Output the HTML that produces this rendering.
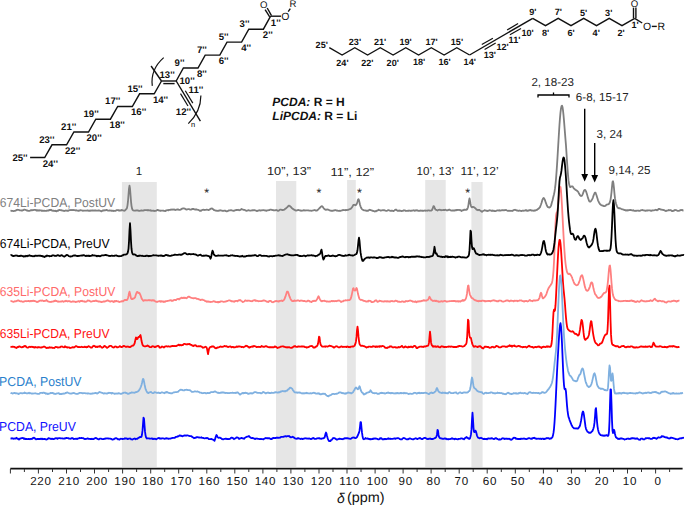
<!DOCTYPE html>
<html><head><meta charset="utf-8"><style>
html,body{margin:0;padding:0;background:#fff;overflow:hidden;}
svg{display:block;}
text{font-family:"Liberation Sans",sans-serif;text-rendering:geometricPrecision;}
.ax{font-size:11.6px;fill:#111;letter-spacing:0.8px;}
.sl{font-size:13px;}
.pl{font-size:11.6px;fill:#222;}
.ast{font-size:12.5px;fill:#222;}
.dl{font-size:14px;font-style:italic;fill:#111;}
.pp{font-size:14px;fill:#111;}
.cl{font-size:9.6px;font-weight:bold;fill:#111;}
.at{font-size:10.5px;fill:#111;}
.at2{font-size:9.6px;fill:#111;}
.cl2{font-size:9.1px;font-weight:bold;fill:#111;}
.nn{font-size:7.5px;fill:#000;}
.pc{font-size:12px;font-weight:bold;fill:#111;}
</style></head><body>
<svg width="685" height="505" viewBox="0 0 685 505">
<rect x="121.9" y="182.0" width="34.9" height="285.0" fill="#e6e6e6"/>
<rect x="276.0" y="181.0" width="20.3" height="286.0" fill="#e6e6e6"/>
<rect x="347.1" y="180.0" width="8.7" height="287.0" fill="#e6e6e6"/>
<rect x="425.2" y="180.0" width="20.5" height="287.0" fill="#e6e6e6"/>
<rect x="471.4" y="182.0" width="11.2" height="285.0" fill="#e6e6e6"/>
<polyline fill="none" stroke="#ff0000" stroke-width="1.8" stroke-linejoin="round" points="10.5,346.52 11.0,346.78 11.5,346.80 12.0,346.82 12.5,346.67 13.0,346.67 13.5,346.85 14.0,346.85 14.5,346.94 15.0,347.44 15.5,347.70 16.0,347.48 16.5,347.95 17.0,347.54 17.5,347.15 18.0,346.92 18.5,347.00 19.0,346.46 19.5,346.44 20.0,346.61 20.5,346.92 21.0,347.05 21.5,347.27 22.0,347.39 22.5,347.01 23.0,347.10 23.5,346.63 24.0,346.35 24.5,345.97 25.0,346.37 25.5,346.04 26.0,346.40 26.5,347.18 27.0,347.50 27.5,347.69 28.0,347.56 28.5,347.45 29.0,346.86 29.5,346.85 30.0,346.75 30.5,347.07 31.0,346.91 31.5,346.88 32.0,346.72 32.5,347.06 33.0,346.92 33.5,347.30 34.0,347.17 34.5,347.57 35.0,347.02 35.5,347.35 36.0,347.17 36.5,347.45 37.0,347.38 37.5,347.55 38.0,347.15 38.5,347.35 39.0,347.17 39.5,347.40 40.0,347.28 40.5,347.58 41.0,347.52 41.5,347.48 42.0,347.16 42.5,347.28 43.0,347.03 43.5,346.69 44.0,346.53 44.5,346.62 45.0,346.92 45.5,347.27 46.0,347.73 46.5,347.99 47.0,348.02 47.5,347.72 48.0,347.68 48.5,347.84 49.0,347.59 49.5,347.28 50.0,347.68 50.5,347.56 51.0,347.38 51.5,347.65 52.0,347.55 52.5,347.65 53.0,348.00 53.5,347.82 54.0,347.79 54.5,348.07 55.0,347.33 55.5,346.91 56.0,346.95 56.5,347.03 57.0,347.16 57.5,347.38 58.0,347.70 58.5,347.45 59.0,347.38 59.5,347.47 60.0,347.39 60.5,346.69 61.0,346.65 61.5,346.53 62.0,346.40 62.5,346.81 63.0,346.99 63.5,347.19 64.0,347.28 64.5,347.13 65.0,346.25 65.5,346.66 66.0,347.17 66.5,347.25 67.0,347.08 67.5,347.52 68.0,347.39 68.5,347.43 69.0,347.34 69.5,347.57 70.0,348.01 70.5,347.94 71.0,347.80 71.5,347.51 72.0,347.38 72.5,347.19 73.0,347.53 73.5,347.26 74.0,347.48 74.5,347.18 75.0,346.86 75.5,346.40 76.0,346.14 76.5,346.20 77.0,346.53 77.5,346.87 78.0,347.02 78.5,347.07 79.0,346.96 79.5,347.13 80.0,347.15 80.5,347.03 81.0,347.05 81.5,346.72 82.0,346.98 82.5,347.11 83.0,347.18 83.5,347.12 84.0,347.15 84.5,346.83 85.0,346.55 85.5,347.08 86.0,347.24 86.5,347.34 87.0,346.76 87.5,347.03 88.0,346.58 88.5,346.17 89.0,346.38 89.5,346.57 90.0,347.03 90.5,347.24 91.0,347.73 91.5,347.65 92.0,347.53 92.5,346.72 93.0,346.12 93.5,346.13 94.0,345.69 94.5,345.96 95.0,346.26 95.5,346.98 96.0,346.58 96.5,346.72 97.0,347.12 97.5,347.03 98.0,346.44 98.5,346.55 99.0,346.74 99.5,346.28 100.0,345.93 100.5,346.43 101.0,346.74 101.5,347.36 102.0,347.60 102.5,347.73 103.0,347.23 103.5,347.04 104.0,346.29 104.5,345.91 105.0,346.10 105.5,346.64 106.0,346.85 106.5,347.44 107.0,347.90 107.5,347.58 108.0,347.28 108.5,347.00 109.0,346.46 109.5,346.02 110.0,345.85 110.5,345.83 111.0,345.94 111.5,346.08 112.0,346.78 112.5,347.15 113.0,347.28 113.5,347.52 114.0,347.44 114.5,346.68 115.0,346.81 115.5,346.52 116.0,346.54 116.5,346.79 117.0,347.46 117.5,347.46 118.0,347.14 118.5,347.01 119.0,346.78 119.5,346.38 120.0,346.11 120.5,346.74 121.0,346.78 121.5,347.15 122.0,346.94 122.5,346.90 123.0,346.19 123.5,345.96 124.0,345.86 124.5,346.06 125.0,346.23 125.5,346.80 126.0,347.04 126.5,346.71 127.0,346.68 127.5,346.43 128.0,346.75 128.5,346.74 129.0,346.87 129.5,347.06 130.0,347.21 130.5,346.81 131.0,346.45 131.5,346.31 132.0,345.86 132.5,345.52 133.0,345.59 133.5,345.33 134.0,344.67 134.5,343.64 135.0,341.86 135.5,339.23 136.0,337.50 136.5,337.97 137.0,339.06 137.5,338.94 138.0,337.73 138.5,336.83 139.0,336.80 139.5,337.01 140.0,335.54 140.5,335.07 141.0,337.50 141.5,340.78 142.0,342.82 142.5,344.82 143.0,345.52 143.5,345.98 144.0,346.20 144.5,346.30 145.0,346.37 145.5,346.35 146.0,346.19 146.5,346.10 147.0,345.92 147.5,345.44 148.0,345.80 148.5,346.17 149.0,346.42 149.5,347.01 150.0,347.19 150.5,347.12 151.0,347.23 151.5,346.95 152.0,346.29 152.5,346.24 153.0,346.28 153.5,346.39 154.0,346.47 154.5,347.06 155.0,347.18 155.5,346.90 156.0,346.49 156.5,346.69 157.0,346.05 157.5,345.92 158.0,345.73 158.5,345.96 159.0,346.50 159.5,347.52 160.0,347.67 160.5,347.56 161.0,347.35 161.5,346.67 162.0,346.50 162.5,346.69 163.0,346.91 163.5,347.20 164.0,347.52 164.5,346.70 165.0,346.44 165.5,346.53 166.0,346.30 166.5,346.19 167.0,346.45 167.5,346.59 168.0,346.48 168.5,346.24 169.0,346.51 169.5,346.63 170.0,346.64 170.5,346.37 171.0,346.48 171.5,346.27 172.0,345.84 172.5,345.92 173.0,346.12 173.5,346.18 174.0,345.89 174.5,346.15 175.0,346.09 175.5,346.01 176.0,346.18 176.5,345.95 177.0,345.61 177.5,345.41 178.0,345.17 178.5,344.65 179.0,344.94 179.5,345.33 180.0,344.70 180.5,344.97 181.0,345.40 181.5,345.39 182.0,345.00 182.5,345.21 183.0,344.98 183.5,344.25 184.0,343.89 184.5,343.87 185.0,343.95 185.5,344.27 186.0,344.47 186.5,344.21 187.0,344.50 187.5,344.32 188.0,343.98 188.5,344.04 189.0,344.34 189.5,343.93 190.0,344.17 190.5,344.83 191.0,344.79 191.5,344.91 192.0,345.47 192.5,345.77 193.0,345.54 193.5,345.96 194.0,345.64 194.5,345.29 195.0,345.24 195.5,345.27 196.0,345.45 196.5,346.09 197.0,346.31 197.5,346.37 198.0,346.30 198.5,346.14 199.0,346.26 199.5,346.31 200.0,346.19 200.5,346.11 201.0,346.36 201.5,346.56 202.0,346.91 202.5,347.35 203.0,347.78 203.5,347.59 204.0,347.52 204.5,347.14 205.0,346.99 205.5,346.77 206.0,347.14 206.5,347.31 207.0,348.70 207.5,351.44 208.0,354.21 208.5,351.60 209.0,348.93 209.5,347.99 210.0,347.24 210.5,346.86 211.0,346.81 211.5,346.94 212.0,346.31 212.5,346.69 213.0,346.46 213.5,346.37 214.0,346.85 214.5,347.41 215.0,348.03 215.5,348.23 216.0,348.35 216.5,347.90 217.0,348.10 217.5,347.31 218.0,347.32 218.5,347.51 219.0,347.28 219.5,346.95 220.0,346.84 220.5,346.46 221.0,346.54 221.5,346.89 222.0,346.87 222.5,346.78 223.0,346.61 223.5,346.53 224.0,346.35 224.5,345.96 225.0,346.15 225.5,346.26 226.0,346.14 226.5,346.20 227.0,346.65 227.5,346.71 228.0,347.09 228.5,346.84 229.0,346.72 229.5,346.53 230.0,346.43 230.5,346.45 231.0,346.84 231.5,347.30 232.0,346.84 232.5,346.98 233.0,346.87 233.5,347.24 234.0,347.09 234.5,347.29 235.0,347.29 235.5,347.22 236.0,346.93 236.5,346.49 237.0,346.83 237.5,346.71 238.0,346.81 238.5,346.46 239.0,346.28 239.5,346.41 240.0,346.66 240.5,346.67 241.0,346.57 241.5,347.02 242.0,347.05 242.5,346.79 243.0,346.80 243.5,347.34 244.0,347.04 244.5,346.79 245.0,346.41 245.5,346.25 246.0,345.77 246.5,345.81 247.0,345.78 247.5,346.60 248.0,346.72 248.5,346.86 249.0,347.56 249.5,347.70 250.0,346.92 250.5,347.05 251.0,346.87 251.5,346.74 252.0,346.48 252.5,346.73 253.0,346.28 253.5,346.52 254.0,345.92 254.5,346.19 255.0,346.23 255.5,346.45 256.0,346.64 256.5,347.08 257.0,347.11 257.5,346.99 258.0,346.89 258.5,346.74 259.0,347.06 259.5,346.95 260.0,346.97 260.5,347.05 261.0,346.75 261.5,346.00 262.0,346.05 262.5,346.55 263.0,346.71 263.5,346.84 264.0,346.69 264.5,346.79 265.0,346.46 265.5,346.19 266.0,346.06 266.5,346.41 267.0,346.59 267.5,346.73 268.0,347.05 268.5,347.22 269.0,347.30 269.5,347.08 270.0,347.42 270.5,347.12 271.0,347.11 271.5,347.32 272.0,347.27 272.5,347.10 273.0,347.34 273.5,347.46 274.0,347.09 274.5,346.84 275.0,346.31 275.5,346.81 276.0,346.92 276.5,347.14 277.0,347.66 277.5,348.01 278.0,347.74 278.5,347.54 279.0,347.35 279.5,347.36 280.0,347.15 280.5,346.62 281.0,346.63 281.5,346.56 282.0,346.48 282.5,346.40 283.0,346.46 283.5,346.43 284.0,346.90 284.5,346.75 285.0,346.95 285.5,347.19 286.0,347.33 286.5,347.19 287.0,347.51 287.5,347.11 288.0,347.41 288.5,347.34 289.0,347.06 289.5,347.29 290.0,347.62 290.5,347.75 291.0,347.96 291.5,347.81 292.0,347.38 292.5,347.58 293.0,347.12 293.5,346.38 294.0,346.53 294.5,346.38 295.0,345.97 295.5,346.40 296.0,346.87 296.5,346.86 297.0,346.83 297.5,346.90 298.0,346.32 298.5,346.40 299.0,346.55 299.5,346.51 300.0,346.66 300.5,346.52 301.0,346.62 301.5,346.38 302.0,346.54 302.5,346.36 303.0,346.55 303.5,346.48 304.0,346.38 304.5,346.88 305.0,347.07 305.5,347.17 306.0,346.95 306.5,347.58 307.0,347.33 307.5,347.41 308.0,347.11 308.5,347.16 309.0,346.94 309.5,346.51 310.0,346.17 310.5,346.20 311.0,346.14 311.5,345.99 312.0,345.95 312.5,346.20 313.0,347.08 313.5,347.62 314.0,347.36 314.5,347.54 315.0,347.50 315.5,346.77 316.0,346.50 316.5,346.49 317.0,346.04 317.5,345.32 318.0,343.80 318.5,340.62 319.0,336.76 319.5,337.20 320.0,341.42 320.5,344.12 321.0,345.29 321.5,345.70 322.0,346.46 322.5,346.69 323.0,346.55 323.5,346.53 324.0,346.58 324.5,346.53 325.0,346.28 325.5,346.75 326.0,346.51 326.5,346.32 327.0,346.30 327.5,346.68 328.0,346.47 328.5,346.24 329.0,345.85 329.5,345.64 330.0,345.82 330.5,346.01 331.0,345.89 331.5,346.25 332.0,346.48 332.5,346.60 333.0,346.88 333.5,347.46 334.0,347.70 334.5,347.37 335.0,346.89 335.5,346.56 336.0,346.30 336.5,346.27 337.0,346.42 337.5,346.60 338.0,346.99 338.5,347.33 339.0,347.41 339.5,347.44 340.0,347.02 340.5,346.67 341.0,346.63 341.5,346.30 342.0,346.63 342.5,346.90 343.0,347.00 343.5,346.80 344.0,346.74 344.5,346.92 345.0,346.72 345.5,346.84 346.0,346.78 346.5,347.11 347.0,346.46 347.5,346.61 348.0,346.60 348.5,347.14 349.0,346.87 349.5,347.02 350.0,347.30 350.5,346.91 351.0,346.59 351.5,346.55 352.0,346.61 352.5,346.40 353.0,346.68 353.5,346.43 354.0,346.10 354.5,345.74 355.0,344.77 355.5,343.44 356.0,341.18 356.5,336.93 357.0,330.10 357.5,326.67 358.0,330.48 358.5,336.42 359.0,340.86 359.5,343.82 360.0,344.71 360.5,345.33 361.0,345.90 361.5,345.85 362.0,345.59 362.5,345.86 363.0,345.98 363.5,346.09 364.0,346.05 364.5,346.48 365.0,346.60 365.5,346.81 366.0,347.16 366.5,347.56 367.0,347.17 367.5,347.10 368.0,347.26 368.5,346.60 369.0,346.66 369.5,346.64 370.0,346.71 370.5,346.67 371.0,346.98 371.5,346.76 372.0,346.94 372.5,346.75 373.0,346.09 373.5,346.35 374.0,346.52 374.5,346.66 375.0,346.43 375.5,347.03 376.0,346.51 376.5,346.86 377.0,346.31 377.5,346.91 378.0,346.59 378.5,346.56 379.0,346.28 379.5,346.76 380.0,346.23 380.5,346.20 381.0,346.61 381.5,346.63 382.0,345.87 382.5,345.99 383.0,346.20 383.5,346.21 384.0,346.47 384.5,347.00 385.0,347.67 385.5,347.76 386.0,347.76 386.5,347.78 387.0,348.15 387.5,347.60 388.0,347.28 388.5,347.44 389.0,347.29 389.5,346.66 390.0,346.39 390.5,346.63 391.0,346.43 391.5,346.39 392.0,346.96 392.5,347.24 393.0,347.49 393.5,347.33 394.0,347.18 394.5,347.11 395.0,347.25 395.5,347.07 396.0,347.53 396.5,347.51 397.0,347.70 397.5,347.64 398.0,347.23 398.5,346.87 399.0,347.44 399.5,347.36 400.0,347.15 400.5,346.84 401.0,346.71 401.5,346.09 402.0,345.93 402.5,346.55 403.0,347.25 403.5,347.49 404.0,347.43 404.5,347.15 405.0,346.59 405.5,346.32 406.0,346.92 406.5,347.04 407.0,347.16 407.5,347.46 408.0,347.58 408.5,346.63 409.0,347.01 409.5,347.08 410.0,346.53 410.5,346.58 411.0,346.97 411.5,346.60 412.0,346.83 412.5,347.31 413.0,347.04 413.5,346.47 414.0,346.01 414.5,345.82 415.0,345.91 415.5,346.33 416.0,347.10 416.5,348.05 417.0,348.08 417.5,348.03 418.0,347.46 418.5,347.30 419.0,346.97 419.5,346.94 420.0,346.60 420.5,346.69 421.0,346.56 421.5,346.75 422.0,346.68 422.5,346.88 423.0,346.97 423.5,346.98 424.0,346.45 424.5,346.58 425.0,346.38 425.5,346.55 426.0,346.29 426.5,346.15 427.0,345.85 427.5,345.89 428.0,345.75 428.5,344.85 429.0,342.64 429.5,336.95 430.0,331.59 430.5,336.10 431.0,342.18 431.5,344.44 432.0,345.49 432.5,346.00 433.0,346.73 433.5,346.23 434.0,346.69 434.5,346.65 435.0,346.23 435.5,346.35 436.0,346.96 436.5,346.80 437.0,346.50 437.5,346.57 438.0,346.27 438.5,346.95 439.0,347.05 439.5,347.26 440.0,347.35 440.5,347.31 441.0,346.50 441.5,346.26 442.0,346.41 442.5,346.50 443.0,346.83 443.5,346.70 444.0,347.10 444.5,346.90 445.0,347.11 445.5,346.89 446.0,346.95 446.5,347.02 447.0,346.92 447.5,346.74 448.0,346.57 448.5,346.81 449.0,346.45 449.5,346.61 450.0,346.71 450.5,346.76 451.0,346.39 451.5,346.57 452.0,346.71 452.5,346.79 453.0,346.68 453.5,347.13 454.0,347.11 454.5,346.96 455.0,346.89 455.5,347.07 456.0,346.98 456.5,347.09 457.0,346.90 457.5,346.47 458.0,346.50 458.5,346.48 459.0,345.84 459.5,345.78 460.0,346.21 460.5,346.17 461.0,346.11 461.5,346.19 462.0,346.49 462.5,346.68 463.0,346.58 463.5,346.28 464.0,346.14 464.5,345.92 465.0,345.24 465.5,344.63 466.0,344.26 466.5,343.02 467.0,338.97 467.5,330.13 468.0,319.55 468.5,320.58 469.0,330.00 469.5,335.80 470.0,337.69 470.5,337.56 471.0,338.15 471.5,340.59 472.0,342.85 472.5,344.34 473.0,345.35 473.5,346.33 474.0,346.80 474.5,346.71 475.0,346.22 475.5,346.23 476.0,346.55 476.5,346.54 477.0,346.58 477.5,347.18 478.0,347.12 478.5,346.34 479.0,346.31 479.5,346.19 480.0,346.52 480.5,346.29 481.0,346.80 481.5,347.40 482.0,348.08 482.5,347.96 483.0,348.49 483.5,348.03 484.0,347.53 484.5,346.95 485.0,346.57 485.5,346.80 486.0,346.70 486.5,346.91 487.0,346.80 487.5,347.17 488.0,346.87 488.5,347.14 489.0,347.48 489.5,347.77 490.0,347.77 490.5,347.55 491.0,347.54 491.5,346.99 492.0,346.95 492.5,346.80 493.0,346.76 493.5,347.41 494.0,347.46 494.5,347.38 495.0,347.08 495.5,346.88 496.0,346.03 496.5,345.86 497.0,346.16 497.5,346.34 498.0,346.47 498.5,346.87 499.0,347.33 499.5,347.27 500.0,347.43 500.5,347.34 501.0,347.21 501.5,346.79 502.0,346.63 502.5,346.28 503.0,346.32 503.5,346.34 504.0,346.46 504.5,346.43 505.0,346.50 505.5,346.88 506.0,346.84 506.5,346.66 507.0,346.76 507.5,346.63 508.0,346.10 508.5,346.19 509.0,346.04 509.5,345.28 510.0,345.59 510.5,346.06 511.0,345.67 511.5,345.84 512.0,346.69 512.5,346.18 513.0,345.75 513.5,345.85 514.0,346.01 514.5,345.44 515.0,346.08 515.5,346.24 516.0,346.58 516.5,346.55 517.0,346.52 517.5,346.28 518.0,346.01 518.5,345.95 519.0,345.83 519.5,346.23 520.0,346.22 520.5,346.69 521.0,346.86 521.5,346.82 522.0,346.89 522.5,347.26 523.0,347.19 523.5,346.86 524.0,347.05 524.5,346.98 525.0,346.86 525.5,346.76 526.0,347.00 526.5,347.52 527.0,347.29 527.5,346.85 528.0,346.45 528.5,346.01 529.0,345.71 529.5,346.08 530.0,346.67 530.5,346.61 531.0,346.77 531.5,346.90 532.0,347.06 532.5,346.89 533.0,347.52 533.5,347.72 534.0,347.39 534.5,347.17 535.0,347.15 535.5,346.92 536.0,346.98 536.5,347.30 537.0,347.04 537.5,346.68 538.0,346.84 538.5,346.70 539.0,346.34 539.5,347.05 540.0,347.31 540.5,347.08 541.0,347.38 541.5,347.97 542.0,347.24 542.5,346.99 543.0,347.10 543.5,346.71 544.0,346.62 544.5,346.97 545.0,347.02 545.5,347.09 546.0,347.04 546.5,346.41 547.0,346.30 547.5,346.89 548.0,346.25 548.5,346.47 549.0,346.84 549.5,346.86 550.0,346.56 550.5,346.81 551.0,346.06 551.5,344.06 552.0,339.66 552.5,331.74 553.0,320.81 553.5,312.27 554.0,309.74 554.5,311.19 555.0,310.09 555.5,305.45 556.0,296.92 556.5,286.55 557.0,275.81 557.5,265.49 558.0,255.78 558.5,248.01 559.0,242.78 559.5,239.92 560.0,240.15 560.5,243.46 561.0,249.42 561.5,257.03 562.0,265.47 562.5,274.29 563.0,282.38 563.5,288.81 564.0,293.62 564.5,298.67 565.0,304.66 565.5,311.47 566.0,317.67 566.5,322.56 567.0,326.33 567.5,328.38 568.0,329.36 568.5,329.79 569.0,330.43 569.5,330.57 570.0,331.12 570.5,331.31 571.0,331.56 571.5,331.69 572.0,331.59 572.5,331.26 573.0,331.57 573.5,331.93 574.0,332.71 574.5,333.35 575.0,333.87 575.5,333.75 576.0,334.20 576.5,333.92 577.0,334.72 577.5,335.00 578.0,335.60 578.5,335.06 579.0,334.53 579.5,332.18 580.0,329.63 580.5,325.94 581.0,322.40 581.5,319.97 582.0,320.51 582.5,323.02 583.0,327.17 583.5,332.21 584.0,336.31 584.5,338.65 585.0,339.63 585.5,339.85 586.0,339.27 586.5,338.56 587.0,338.37 587.5,338.21 588.0,337.21 588.5,336.00 589.0,334.47 589.5,331.26 590.0,327.40 590.5,323.55 591.0,321.15 591.5,321.71 592.0,325.33 592.5,329.14 593.0,332.86 593.5,335.83 594.0,338.36 594.5,340.35 595.0,341.89 595.5,342.68 596.0,343.33 596.5,343.63 597.0,344.10 597.5,344.75 598.0,345.34 598.5,345.08 599.0,345.01 599.5,344.60 600.0,343.84 600.5,343.48 601.0,343.48 601.5,343.23 602.0,342.49 602.5,341.50 603.0,340.06 603.5,338.57 604.0,337.25 604.5,336.12 605.0,335.26 605.5,334.60 606.0,334.37 606.5,334.27 607.0,333.82 607.5,330.73 608.0,321.07 608.5,304.90 609.0,288.86 609.5,285.60 610.0,299.41 610.5,319.60 611.0,334.14 611.5,340.96 612.0,343.76 612.5,344.66 613.0,344.98 613.5,344.88 614.0,345.54 614.5,345.82 615.0,345.85 615.5,346.05 616.0,346.40 616.5,346.22 617.0,346.23 617.5,346.16 618.0,346.15 618.5,347.00 619.0,347.34 619.5,347.29 620.0,347.03 620.5,347.04 621.0,346.50 621.5,346.21 622.0,346.14 622.5,346.02 623.0,346.14 623.5,345.85 624.0,346.18 624.5,346.55 625.0,347.03 625.5,347.14 626.0,347.34 626.5,347.15 627.0,346.79 627.5,346.64 628.0,346.72 628.5,346.87 629.0,346.70 629.5,346.95 630.0,346.99 630.5,346.37 631.0,346.45 631.5,346.39 632.0,346.47 632.5,346.69 633.0,347.23 633.5,347.08 634.0,347.63 634.5,347.44 635.0,347.53 635.5,347.39 636.0,347.52 636.5,347.18 637.0,347.33 637.5,347.54 638.0,347.47 638.5,347.33 639.0,347.31 639.5,347.02 640.0,346.74 640.5,346.68 641.0,346.38 641.5,346.49 642.0,346.60 642.5,346.61 643.0,346.85 643.5,346.65 644.0,346.97 644.5,346.89 645.0,346.64 645.5,346.40 646.0,346.89 646.5,346.76 647.0,346.71 647.5,346.91 648.0,346.62 648.5,346.54 649.0,346.30 649.5,346.26 650.0,346.38 650.5,347.07 651.0,347.15 651.5,346.79 652.0,346.79 652.5,345.68 653.0,344.01 653.5,342.63 654.0,343.41 654.5,344.51 655.0,345.64 655.5,346.18 656.0,346.56 656.5,346.51 657.0,346.69 657.5,346.60 658.0,346.65 658.5,346.66 659.0,346.60 659.5,346.35 660.0,346.15 660.5,346.29 661.0,346.46 661.5,346.57 662.0,346.98 662.5,347.12 663.0,347.16 663.5,347.15 664.0,347.10 664.5,346.70 665.0,347.09 665.5,346.98 666.0,346.94 666.5,347.37 667.0,347.48 667.5,346.91 668.0,346.73 668.5,346.86 669.0,346.52 669.5,346.23 670.0,346.16 670.5,346.40 671.0,346.55 671.5,346.30 672.0,346.06 672.5,346.61 673.0,346.42 673.5,346.02 674.0,346.23 674.5,346.51 675.0,346.50 675.5,346.82 676.0,346.97 676.5,346.92 677.0,347.35 677.5,347.23 678.0,347.16 678.5,346.87 679.0,347.14 679.5,347.07"/>
<polyline fill="none" stroke="#7fb0e0" stroke-width="1.8" stroke-linejoin="round" points="10.5,393.04 11.0,393.18 11.5,392.98 12.0,393.23 12.5,393.54 13.0,393.39 13.5,393.15 14.0,393.05 14.5,392.89 15.0,393.09 15.5,393.31 16.0,393.22 16.5,393.39 17.0,393.45 17.5,393.49 18.0,393.65 18.5,393.98 19.0,393.53 19.5,393.66 20.0,393.18 20.5,393.19 21.0,392.97 21.5,393.26 22.0,393.47 22.5,393.43 23.0,393.16 23.5,393.08 24.0,393.02 24.5,392.55 25.0,392.99 25.5,392.93 26.0,393.19 26.5,393.40 27.0,393.23 27.5,393.36 28.0,393.37 28.5,393.01 29.0,392.77 29.5,393.24 30.0,393.17 30.5,393.09 31.0,393.41 31.5,393.57 32.0,393.60 32.5,393.40 33.0,393.70 33.5,393.52 34.0,393.35 34.5,393.28 35.0,393.44 35.5,393.25 36.0,393.52 36.5,393.69 37.0,393.71 37.5,393.79 38.0,393.89 38.5,393.93 39.0,393.82 39.5,393.58 40.0,392.94 40.5,392.92 41.0,392.78 41.5,392.95 42.0,392.71 42.5,393.05 43.0,392.87 43.5,392.53 44.0,392.60 44.5,393.17 45.0,393.02 45.5,393.21 46.0,393.85 46.5,393.46 47.0,393.42 47.5,393.94 48.0,394.20 48.5,393.64 49.0,393.67 49.5,393.52 50.0,393.45 50.5,392.88 51.0,392.99 51.5,392.98 52.0,393.15 52.5,392.83 53.0,393.16 53.5,393.42 54.0,393.83 54.5,393.71 55.0,393.87 55.5,393.98 56.0,393.95 56.5,393.50 57.0,393.33 57.5,393.43 58.0,393.25 58.5,393.09 59.0,393.37 59.5,394.08 60.0,393.90 60.5,393.96 61.0,394.11 61.5,394.02 62.0,393.63 62.5,393.80 63.0,393.78 63.5,393.45 64.0,393.73 64.5,393.65 65.0,393.48 65.5,392.91 66.0,393.15 66.5,392.69 67.0,392.51 67.5,392.43 68.0,392.77 68.5,392.97 69.0,393.21 69.5,393.48 70.0,393.40 70.5,393.52 71.0,393.58 71.5,393.62 72.0,393.26 72.5,393.27 73.0,393.20 73.5,392.93 74.0,393.00 74.5,393.16 75.0,393.46 75.5,393.72 76.0,393.76 76.5,393.87 77.0,393.98 77.5,393.81 78.0,393.62 78.5,393.60 79.0,393.22 79.5,392.84 80.0,392.88 80.5,392.82 81.0,392.93 81.5,392.96 82.0,393.22 82.5,393.25 83.0,393.26 83.5,393.18 84.0,393.16 84.5,393.06 85.0,393.17 85.5,393.33 86.0,393.29 86.5,393.28 87.0,393.49 87.5,393.71 88.0,393.24 88.5,393.43 89.0,393.61 89.5,393.69 90.0,393.53 90.5,393.75 91.0,393.87 91.5,393.72 92.0,393.48 92.5,393.38 93.0,393.55 93.5,393.28 94.0,393.29 94.5,393.14 95.0,393.03 95.5,392.85 96.0,393.04 96.5,393.18 97.0,393.63 97.5,393.40 98.0,393.22 98.5,392.55 99.0,392.43 99.5,391.94 100.0,392.23 100.5,392.35 101.0,392.51 101.5,392.63 102.0,392.79 102.5,392.85 103.0,393.27 103.5,393.59 104.0,393.31 104.5,393.22 105.0,393.51 105.5,393.32 106.0,393.31 106.5,393.56 107.0,393.71 107.5,393.26 108.0,393.20 108.5,393.05 109.0,392.66 109.5,392.97 110.0,392.98 110.5,392.84 111.0,393.03 111.5,393.52 112.0,392.95 112.5,392.87 113.0,393.38 113.5,393.39 114.0,393.34 114.5,393.79 115.0,393.86 115.5,393.53 116.0,393.72 116.5,393.60 117.0,393.40 117.5,393.54 118.0,393.60 118.5,393.08 119.0,393.46 119.5,393.46 120.0,393.66 120.5,393.75 121.0,393.80 121.5,393.74 122.0,393.71 122.5,393.22 123.0,393.12 123.5,392.89 124.0,392.67 124.5,392.57 125.0,392.67 125.5,392.51 126.0,393.02 126.5,393.00 127.0,393.32 127.5,393.66 128.0,393.87 128.5,393.75 129.0,393.72 129.5,393.36 130.0,392.94 130.5,393.00 131.0,392.81 131.5,392.37 132.0,392.42 132.5,392.54 133.0,392.63 133.5,392.60 134.0,392.73 134.5,392.74 135.0,392.57 135.5,392.23 136.0,392.12 136.5,392.14 137.0,391.77 137.5,391.67 138.0,391.29 138.5,391.02 139.0,390.34 139.5,389.51 140.0,388.55 140.5,387.52 141.0,386.37 141.5,384.92 142.0,382.99 142.5,380.61 143.0,378.91 143.5,379.18 144.0,381.37 144.5,384.18 145.0,386.51 145.5,388.83 146.0,389.98 146.5,391.09 147.0,391.93 147.5,392.77 148.0,392.63 148.5,393.10 149.0,392.68 149.5,392.51 150.0,392.04 150.5,392.13 151.0,391.98 151.5,392.46 152.0,392.77 152.5,393.01 153.0,393.13 153.5,393.07 154.0,392.72 154.5,392.21 155.0,392.26 155.5,392.43 156.0,392.48 156.5,392.77 157.0,392.89 157.5,392.76 158.0,392.56 158.5,392.86 159.0,392.71 159.5,393.06 160.0,393.18 160.5,393.07 161.0,392.55 161.5,392.55 162.0,392.24 162.5,392.46 163.0,392.73 163.5,392.79 164.0,393.02 164.5,393.27 165.0,392.57 165.5,392.28 166.0,392.60 166.5,392.13 167.0,391.87 167.5,392.46 168.0,392.66 168.5,392.66 169.0,393.01 169.5,392.94 170.0,393.22 170.5,393.21 171.0,393.46 171.5,393.23 172.0,393.42 172.5,392.98 173.0,392.77 173.5,392.36 174.0,392.36 174.5,392.32 175.0,392.22 175.5,392.15 176.0,392.08 176.5,392.19 177.0,391.95 177.5,391.90 178.0,391.81 178.5,391.26 179.0,390.73 179.5,390.45 180.0,389.99 180.5,389.76 181.0,389.71 181.5,389.83 182.0,389.82 182.5,390.23 183.0,390.34 183.5,390.38 184.0,390.25 184.5,390.32 185.0,389.95 185.5,389.80 186.0,389.83 186.5,389.74 187.0,389.80 187.5,389.88 188.0,390.20 188.5,390.06 189.0,390.10 189.5,390.05 190.0,390.45 190.5,390.51 191.0,391.11 191.5,391.51 192.0,391.96 192.5,391.92 193.0,391.78 193.5,391.78 194.0,391.58 194.5,391.36 195.0,391.41 195.5,391.47 196.0,391.56 196.5,391.71 197.0,391.61 197.5,391.39 198.0,391.69 198.5,391.77 199.0,392.08 199.5,392.38 200.0,392.71 200.5,392.70 201.0,392.70 201.5,392.86 202.0,393.12 202.5,393.25 203.0,393.06 203.5,393.07 204.0,392.90 204.5,392.96 205.0,392.91 205.5,393.12 206.0,393.33 206.5,393.34 207.0,393.12 207.5,392.94 208.0,393.17 208.5,393.08 209.0,392.97 209.5,392.98 210.0,392.94 210.5,392.41 211.0,392.09 211.5,392.22 212.0,391.97 212.5,392.17 213.0,392.18 213.5,392.06 214.0,391.74 214.5,391.66 215.0,391.33 215.5,391.69 216.0,391.98 216.5,392.05 217.0,392.50 217.5,392.76 218.0,392.85 218.5,392.68 219.0,393.10 219.5,392.83 220.0,392.82 220.5,392.67 221.0,392.79 221.5,392.32 222.0,392.46 222.5,392.55 223.0,392.23 223.5,392.60 224.0,392.75 224.5,392.72 225.0,392.73 225.5,393.04 226.0,393.06 226.5,392.82 227.0,392.93 227.5,393.13 228.0,393.17 228.5,392.97 229.0,393.16 229.5,393.21 230.0,392.97 230.5,392.95 231.0,392.78 231.5,392.92 232.0,392.83 232.5,392.66 233.0,392.82 233.5,392.98 234.0,392.81 234.5,392.79 235.0,393.08 235.5,392.83 236.0,392.67 236.5,392.86 237.0,392.66 237.5,392.34 238.0,392.61 238.5,393.10 239.0,393.47 239.5,394.12 240.0,394.66 240.5,394.28 241.0,393.88 241.5,393.74 242.0,393.25 242.5,392.95 243.0,393.11 243.5,393.28 244.0,392.84 244.5,392.93 245.0,393.08 245.5,392.72 246.0,392.84 246.5,393.22 247.0,393.07 247.5,393.31 248.0,393.75 248.5,393.64 249.0,393.78 249.5,393.46 250.0,393.13 250.5,393.25 251.0,393.41 251.5,393.13 252.0,393.56 252.5,393.42 253.0,393.17 253.5,392.76 254.0,392.33 254.5,392.26 255.0,392.21 255.5,392.16 256.0,392.23 256.5,392.57 257.0,392.70 257.5,392.86 258.0,392.90 258.5,392.87 259.0,392.94 259.5,392.86 260.0,392.85 260.5,393.15 261.0,393.31 261.5,393.25 262.0,392.94 262.5,392.69 263.0,391.91 263.5,392.02 264.0,392.29 264.5,392.58 265.0,392.75 265.5,393.36 266.0,393.30 266.5,392.78 267.0,392.80 267.5,392.82 268.0,392.50 268.5,392.65 269.0,393.08 269.5,393.01 270.0,393.04 270.5,393.16 271.0,392.80 271.5,392.58 272.0,392.85 272.5,392.84 273.0,392.83 273.5,392.77 274.0,392.85 274.5,392.47 275.0,392.14 275.5,392.15 276.0,392.49 276.5,392.26 277.0,392.37 277.5,392.54 278.0,392.69 278.5,392.38 279.0,392.16 279.5,392.32 280.0,392.23 280.5,391.70 281.0,391.38 281.5,391.48 282.0,391.22 282.5,391.04 283.0,390.96 283.5,391.21 284.0,391.42 284.5,391.13 285.0,391.20 285.5,391.39 286.0,391.09 286.5,390.59 287.0,390.72 287.5,390.28 288.0,389.53 288.5,389.18 289.0,388.92 289.5,388.18 290.0,387.67 290.5,387.77 291.0,387.82 291.5,388.26 292.0,388.54 292.5,389.33 293.0,390.29 293.5,390.80 294.0,391.59 294.5,392.34 295.0,392.35 295.5,392.41 296.0,392.55 296.5,392.43 297.0,392.43 297.5,392.77 298.0,392.61 298.5,392.59 299.0,392.38 299.5,392.37 300.0,392.78 300.5,392.73 301.0,393.04 301.5,393.28 302.0,393.58 302.5,393.24 303.0,393.39 303.5,393.18 304.0,393.56 304.5,393.08 305.0,393.18 305.5,393.09 306.0,393.29 306.5,392.75 307.0,392.95 307.5,393.09 308.0,393.33 308.5,393.29 309.0,393.37 309.5,393.49 310.0,393.30 310.5,393.22 311.0,393.37 311.5,393.49 312.0,393.18 312.5,393.19 313.0,392.92 313.5,392.87 314.0,392.74 314.5,393.09 315.0,393.09 315.5,393.46 316.0,393.63 316.5,393.72 317.0,393.41 317.5,393.44 318.0,393.64 318.5,393.29 319.0,393.26 319.5,393.98 320.0,394.31 320.5,394.09 321.0,394.29 321.5,394.10 322.0,394.01 322.5,393.93 323.0,393.59 323.5,393.62 324.0,393.96 324.5,393.81 325.0,393.71 325.5,394.68 326.0,394.79 326.5,395.34 327.0,395.73 327.5,396.09 328.0,395.90 328.5,396.25 329.0,395.79 329.5,395.44 330.0,395.41 330.5,395.23 331.0,394.90 331.5,394.58 332.0,394.14 332.5,394.01 333.0,393.94 333.5,393.84 334.0,394.03 334.5,394.18 335.0,393.94 335.5,393.85 336.0,393.86 336.5,393.66 337.0,393.75 337.5,393.55 338.0,393.30 338.5,392.95 339.0,392.60 339.5,392.34 340.0,392.46 340.5,392.31 341.0,392.60 341.5,392.91 342.0,393.14 342.5,393.01 343.0,393.40 343.5,393.22 344.0,393.31 344.5,393.45 345.0,393.79 345.5,393.30 346.0,393.62 346.5,393.41 347.0,393.01 347.5,392.57 348.0,392.93 348.5,392.45 349.0,392.71 349.5,392.91 350.0,392.97 350.5,392.80 351.0,393.27 351.5,393.33 352.0,392.92 352.5,392.74 353.0,392.22 353.5,391.33 354.0,390.29 354.5,389.76 355.0,388.71 355.5,387.84 356.0,387.52 356.5,387.83 357.0,388.42 357.5,389.13 358.0,389.25 358.5,388.47 359.0,387.26 359.5,386.20 360.0,387.08 360.5,389.37 361.0,390.76 361.5,391.67 362.0,392.43 362.5,392.67 363.0,393.28 363.5,394.15 364.0,394.49 364.5,394.09 365.0,394.01 365.5,393.52 366.0,393.48 366.5,393.03 367.0,392.67 367.5,392.54 368.0,392.53 368.5,392.25 369.0,392.17 369.5,392.07 370.0,391.19 370.5,390.22 371.0,390.96 371.5,391.97 372.0,392.42 372.5,392.60 373.0,393.02 373.5,393.06 374.0,393.20 374.5,393.23 375.0,393.23 375.5,393.04 376.0,393.10 376.5,393.13 377.0,393.42 377.5,393.91 378.0,393.89 378.5,393.73 379.0,393.85 379.5,393.49 380.0,393.08 380.5,392.97 381.0,393.20 381.5,392.76 382.0,393.01 382.5,392.84 383.0,393.11 383.5,393.18 384.0,393.29 384.5,393.09 385.0,393.62 385.5,393.33 386.0,393.18 386.5,392.98 387.0,393.06 387.5,392.65 388.0,392.70 388.5,392.47 389.0,393.05 389.5,393.10 390.0,392.92 390.5,393.27 391.0,393.31 391.5,392.95 392.0,392.90 392.5,393.10 393.0,393.05 393.5,393.41 394.0,393.43 394.5,393.46 395.0,393.54 395.5,393.15 396.0,393.09 396.5,393.39 397.0,393.04 397.5,392.93 398.0,393.40 398.5,393.42 399.0,393.18 399.5,393.38 400.0,393.38 400.5,392.99 401.0,392.85 401.5,393.29 402.0,393.08 402.5,393.13 403.0,393.18 403.5,393.43 404.0,392.76 404.5,393.17 405.0,393.26 405.5,393.27 406.0,392.95 406.5,393.25 407.0,393.40 407.5,393.37 408.0,393.73 408.5,393.98 409.0,393.98 409.5,393.69 410.0,393.62 410.5,393.70 411.0,393.75 411.5,393.90 412.0,393.78 412.5,393.74 413.0,393.59 413.5,393.32 414.0,392.90 414.5,392.75 415.0,392.89 415.5,392.88 416.0,393.01 416.5,393.53 417.0,393.52 417.5,393.11 418.0,393.00 418.5,393.05 419.0,392.63 419.5,392.95 420.0,393.33 420.5,393.22 421.0,392.91 421.5,393.00 422.0,392.94 422.5,393.01 423.0,393.04 423.5,393.02 424.0,392.88 424.5,392.81 425.0,392.77 425.5,392.67 426.0,392.77 426.5,393.05 427.0,393.18 427.5,393.45 428.0,393.68 428.5,393.85 429.0,394.13 429.5,393.74 430.0,393.06 430.5,392.82 431.0,392.72 431.5,392.53 432.0,392.96 432.5,393.14 433.0,392.98 433.5,392.97 434.0,392.62 434.5,392.17 435.0,391.75 435.5,391.53 436.0,390.31 436.5,388.83 437.0,388.04 437.5,389.06 438.0,390.41 438.5,391.46 439.0,392.01 439.5,392.19 440.0,392.58 440.5,392.58 441.0,392.79 441.5,392.86 442.0,393.12 442.5,392.50 443.0,392.80 443.5,392.83 444.0,392.74 444.5,392.57 445.0,393.04 445.5,392.67 446.0,393.14 446.5,393.18 447.0,393.32 447.5,393.17 448.0,393.36 448.5,392.40 449.0,392.41 449.5,392.17 450.0,392.38 450.5,392.53 451.0,393.19 451.5,393.21 452.0,393.17 452.5,393.07 453.0,393.10 453.5,393.18 454.0,392.73 454.5,392.69 455.0,392.65 455.5,392.51 456.0,392.29 456.5,392.98 457.0,393.30 457.5,393.68 458.0,393.58 458.5,393.32 459.0,392.76 459.5,392.51 460.0,392.36 460.5,392.46 461.0,392.95 461.5,393.17 462.0,393.11 462.5,393.07 463.0,392.68 463.5,392.44 464.0,392.52 464.5,392.41 465.0,392.36 465.5,392.70 466.0,392.71 466.5,392.52 467.0,392.57 467.5,392.35 468.0,392.10 468.5,391.43 469.0,391.25 469.5,390.85 470.0,389.50 470.5,387.31 471.0,384.06 471.5,379.97 472.0,377.53 472.5,379.29 473.0,382.83 473.5,385.97 474.0,387.45 474.5,388.19 475.0,388.46 475.5,388.86 476.0,389.36 476.5,390.00 477.0,390.71 477.5,391.20 478.0,391.31 478.5,391.34 479.0,391.83 479.5,391.91 480.0,391.87 480.5,392.01 481.0,392.11 481.5,392.36 482.0,392.25 482.5,393.10 483.0,393.48 483.5,393.79 484.0,393.62 484.5,393.40 485.0,392.95 485.5,392.83 486.0,392.71 486.5,392.78 487.0,393.24 487.5,393.06 488.0,393.11 488.5,393.06 489.0,392.92 489.5,392.85 490.0,393.00 490.5,392.36 491.0,392.38 491.5,392.49 492.0,392.59 492.5,392.59 493.0,393.26 493.5,393.18 494.0,392.96 494.5,393.25 495.0,393.58 495.5,393.16 496.0,393.11 496.5,393.21 497.0,393.04 497.5,392.51 498.0,392.73 498.5,392.96 499.0,393.13 499.5,392.83 500.0,392.99 500.5,393.04 501.0,393.13 501.5,393.00 502.0,393.25 502.5,393.64 503.0,393.84 503.5,393.66 504.0,393.87 504.5,394.10 505.0,394.03 505.5,394.22 506.0,394.28 506.5,393.63 507.0,393.27 507.5,393.05 508.0,392.71 508.5,392.78 509.0,393.20 509.5,393.62 510.0,393.70 510.5,393.88 511.0,393.96 511.5,394.18 512.0,393.74 512.5,393.90 513.0,393.73 513.5,393.15 514.0,393.19 514.5,393.33 515.0,393.29 515.5,393.11 516.0,393.59 516.5,393.14 517.0,393.53 517.5,393.58 518.0,393.76 518.5,393.20 519.0,393.34 519.5,392.96 520.0,392.66 520.5,392.74 521.0,393.12 521.5,393.22 522.0,393.24 522.5,393.11 523.0,393.20 523.5,393.35 524.0,393.20 524.5,392.99 525.0,392.96 525.5,393.23 526.0,393.55 526.5,393.72 527.0,393.76 527.5,394.06 528.0,393.49 528.5,392.87 529.0,392.36 529.5,392.33 530.0,392.06 530.5,392.39 531.0,392.64 531.5,392.87 532.0,392.90 532.5,393.00 533.0,392.79 533.5,392.71 534.0,393.03 534.5,392.81 535.0,392.86 535.5,392.89 536.0,393.02 536.5,392.79 537.0,392.91 537.5,393.02 538.0,393.19 538.5,392.89 539.0,393.08 539.5,393.68 540.0,393.42 540.5,393.32 541.0,392.98 541.5,392.80 542.0,392.14 542.5,392.28 543.0,392.07 543.5,392.53 544.0,392.60 544.5,392.83 545.0,392.77 545.5,392.49 546.0,392.15 546.5,391.62 547.0,390.97 547.5,390.18 548.0,389.74 548.5,389.24 549.0,388.51 549.5,387.63 550.0,387.15 550.5,386.12 551.0,385.28 551.5,384.02 552.0,382.49 552.5,380.18 553.0,377.29 553.5,373.06 554.0,368.81 554.5,363.95 555.0,359.42 555.5,355.03 556.0,350.22 556.5,343.45 557.0,335.31 557.5,324.45 558.0,312.21 558.5,300.37 559.0,289.33 559.5,280.70 560.0,275.90 560.5,275.44 561.0,278.58 561.5,285.72 562.0,295.31 562.5,306.24 563.0,317.16 563.5,327.08 564.0,335.81 564.5,342.64 565.0,348.80 565.5,353.58 566.0,358.09 566.5,361.89 567.0,365.32 567.5,367.80 568.0,370.65 568.5,372.38 569.0,373.65 569.5,374.94 570.0,375.76 570.5,375.92 571.0,376.51 571.5,377.42 572.0,377.99 572.5,378.88 573.0,379.98 573.5,380.37 574.0,380.55 574.5,380.91 575.0,380.95 575.5,381.15 576.0,381.35 576.5,381.15 577.0,380.93 577.5,379.86 578.0,378.05 578.5,376.82 579.0,375.76 579.5,374.76 580.0,374.55 580.5,373.69 581.0,371.90 581.5,370.09 582.0,368.99 582.5,368.44 583.0,369.08 583.5,370.82 584.0,373.68 584.5,376.21 585.0,378.76 585.5,381.17 586.0,382.76 586.5,383.79 587.0,385.06 587.5,386.02 588.0,386.35 588.5,387.00 589.0,387.04 589.5,386.65 590.0,386.30 590.5,385.95 591.0,384.95 591.5,383.78 592.0,382.07 592.5,379.87 593.0,377.67 593.5,375.35 594.0,373.79 594.5,373.26 595.0,374.36 595.5,376.24 596.0,379.06 596.5,381.66 597.0,384.42 597.5,385.79 598.0,386.66 598.5,387.30 599.0,388.16 599.5,388.22 600.0,388.44 600.5,388.67 601.0,388.97 601.5,388.59 602.0,388.53 602.5,388.77 603.0,389.11 603.5,389.12 604.0,389.61 604.5,390.07 605.0,389.92 605.5,390.12 606.0,390.32 606.5,390.46 607.0,390.44 607.5,390.15 608.0,387.44 608.5,380.79 609.0,371.60 609.5,365.47 610.0,367.36 610.5,374.59 611.0,380.75 611.5,380.73 612.0,376.29 612.5,373.41 613.0,376.74 613.5,383.29 614.0,388.69 614.5,391.90 615.0,393.42 615.5,393.51 616.0,393.28 616.5,393.64 617.0,393.52 617.5,393.26 618.0,393.53 618.5,393.45 619.0,392.97 619.5,393.10 620.0,393.36 620.5,393.05 621.0,393.38 621.5,393.61 622.0,392.98 622.5,392.78 623.0,393.04 623.5,392.92 624.0,392.59 624.5,393.13 625.0,393.07 625.5,393.05 626.0,393.08 626.5,393.46 627.0,393.19 627.5,393.63 628.0,393.44 628.5,393.35 629.0,393.06 629.5,393.17 630.0,392.87 630.5,392.86 631.0,393.02 631.5,393.22 632.0,393.21 632.5,393.17 633.0,393.27 633.5,393.32 634.0,393.45 634.5,393.32 635.0,393.46 635.5,393.55 636.0,393.14 636.5,392.99 637.0,393.45 637.5,393.24 638.0,392.90 638.5,392.75 639.0,392.68 639.5,392.34 640.0,392.40 640.5,392.76 641.0,392.94 641.5,392.91 642.0,393.26 642.5,393.57 643.0,393.30 643.5,393.20 644.0,393.28 644.5,393.02 645.0,392.78 645.5,392.73 646.0,393.18 646.5,392.96 647.0,392.71 647.5,392.51 648.0,392.66 648.5,392.51 649.0,392.45 649.5,392.71 650.0,393.10 650.5,392.81 651.0,392.91 651.5,392.98 652.0,392.42 652.5,392.20 653.0,392.29 653.5,392.12 654.0,392.13 654.5,392.09 655.0,391.87 655.5,392.19 656.0,392.35 656.5,392.18 657.0,392.76 657.5,392.97 658.0,392.99 658.5,393.10 659.0,393.53 659.5,393.49 660.0,393.35 660.5,392.94 661.0,392.22 661.5,391.80 662.0,391.71 662.5,391.77 663.0,391.75 663.5,391.71 664.0,391.72 664.5,391.39 665.0,391.42 665.5,391.40 666.0,391.72 666.5,391.92 667.0,392.25 667.5,392.30 668.0,392.76 668.5,393.04 669.0,393.37 669.5,393.31 670.0,393.39 670.5,393.79 671.0,393.82 671.5,393.48 672.0,393.64 672.5,393.53 673.0,392.95 673.5,393.15 674.0,393.61 674.5,393.52 675.0,393.42 675.5,393.69 676.0,393.64 676.5,393.32 677.0,393.56 677.5,393.66 678.0,393.72 678.5,393.51 679.0,393.56 679.5,393.53 680.0,393.41 680.5,393.20 681.0,393.25 681.5,393.37 682.0,393.13 682.5,392.95 683.0,392.79"/>
<polyline fill="none" stroke="#0000ff" stroke-width="1.8" stroke-linejoin="round" points="10.5,438.44 11.0,438.49 11.5,438.49 12.0,438.24 12.5,438.48 13.0,438.48 13.5,438.79 14.0,438.69 14.5,438.59 15.0,438.40 15.5,438.64 16.0,438.24 16.5,437.81 17.0,438.40 17.5,438.75 18.0,438.61 18.5,439.09 19.0,439.60 19.5,439.11 20.0,438.52 20.5,438.51 21.0,438.39 21.5,438.07 22.0,438.04 22.5,438.17 23.0,437.91 23.5,438.36 24.0,439.00 24.5,438.44 25.0,438.66 25.5,439.02 26.0,438.89 26.5,438.84 27.0,439.08 27.5,439.17 28.0,438.96 28.5,438.99 29.0,438.92 29.5,439.03 30.0,439.24 30.5,438.97 31.0,438.90 31.5,438.89 32.0,439.09 32.5,438.21 33.0,438.28 33.5,437.85 34.0,437.72 34.5,437.79 35.0,438.61 35.5,438.89 36.0,439.33 36.5,439.12 37.0,439.07 37.5,438.93 38.0,439.04 38.5,438.94 39.0,439.09 39.5,438.96 40.0,439.14 40.5,438.79 41.0,438.56 41.5,438.98 42.0,439.22 42.5,438.71 43.0,439.03 43.5,439.07 44.0,439.01 44.5,438.97 45.0,438.93 45.5,439.27 46.0,439.58 46.5,439.33 47.0,439.33 47.5,439.22 48.0,438.58 48.5,438.04 49.0,438.19 49.5,438.47 50.0,438.69 50.5,438.71 51.0,439.06 51.5,438.87 52.0,438.72 52.5,438.90 53.0,439.09 53.5,439.14 54.0,438.94 54.5,438.97 55.0,438.44 55.5,438.38 56.0,438.18 56.5,438.47 57.0,438.27 57.5,438.75 58.0,438.35 58.5,438.29 59.0,438.04 59.5,438.16 60.0,438.15 60.5,438.43 61.0,438.43 61.5,438.44 62.0,438.34 62.5,438.39 63.0,438.63 63.5,438.70 64.0,438.63 64.5,438.48 65.0,438.54 65.5,438.16 66.0,438.12 66.5,437.85 67.0,438.21 67.5,438.07 68.0,438.15 68.5,438.18 69.0,438.79 69.5,438.58 70.0,438.62 70.5,438.76 71.0,438.55 71.5,438.05 72.0,438.28 72.5,438.12 73.0,438.36 73.5,438.86 74.0,439.12 74.5,438.78 75.0,438.78 75.5,438.88 76.0,438.65 76.5,438.69 77.0,439.02 77.5,438.94 78.0,438.47 78.5,438.34 79.0,438.39 79.5,437.93 80.0,437.99 80.5,438.14 81.0,438.05 81.5,437.85 82.0,438.21 82.5,438.13 83.0,438.06 83.5,438.43 84.0,438.67 84.5,438.96 85.0,439.16 85.5,438.88 86.0,438.79 86.5,438.82 87.0,438.60 87.5,438.32 88.0,438.61 88.5,438.77 89.0,438.77 89.5,438.84 90.0,439.00 90.5,439.12 91.0,438.90 91.5,439.18 92.0,438.74 92.5,439.14 93.0,439.09 93.5,439.10 94.0,438.64 94.5,438.61 95.0,438.05 95.5,438.07 96.0,437.85 96.5,438.23 97.0,438.55 97.5,438.96 98.0,439.14 98.5,439.32 99.0,439.27 99.5,438.82 100.0,438.62 100.5,438.60 101.0,438.59 101.5,438.74 102.0,439.11 102.5,439.03 103.0,439.12 103.5,439.17 104.0,438.79 104.5,438.76 105.0,438.77 105.5,438.41 106.0,438.54 106.5,438.44 107.0,438.43 107.5,438.43 108.0,438.51 108.5,438.46 109.0,438.71 109.5,438.67 110.0,438.68 110.5,438.73 111.0,438.80 111.5,438.83 112.0,439.47 112.5,439.65 113.0,439.48 113.5,439.24 114.0,439.31 114.5,438.55 115.0,438.49 115.5,438.26 116.0,438.27 116.5,438.21 117.0,438.62 117.5,438.78 118.0,439.33 118.5,439.23 119.0,439.41 119.5,439.57 120.0,439.10 120.5,438.65 121.0,438.95 121.5,438.77 122.0,438.68 122.5,439.06 123.0,439.08 123.5,438.78 124.0,438.93 124.5,438.65 125.0,438.25 125.5,438.42 126.0,438.71 126.5,438.40 127.0,438.53 127.5,438.99 128.0,439.03 128.5,438.67 129.0,438.67 129.5,438.69 130.0,438.45 130.5,438.67 131.0,439.28 131.5,439.43 132.0,439.35 132.5,439.49 133.0,439.08 133.5,438.98 134.0,438.73 134.5,438.49 135.0,438.83 135.5,439.20 136.0,438.74 136.5,438.84 137.0,439.02 137.5,438.78 138.0,438.12 138.5,437.96 139.0,437.52 139.5,437.35 140.0,436.85 140.5,437.05 141.0,437.18 141.5,436.69 142.0,434.50 142.5,430.65 143.0,424.31 143.5,417.57 144.0,418.55 144.5,425.32 145.0,431.42 145.5,435.10 146.0,437.20 146.5,438.01 147.0,438.48 147.5,438.35 148.0,438.28 148.5,438.34 149.0,438.32 149.5,438.66 150.0,438.63 150.5,438.66 151.0,438.57 151.5,438.48 152.0,438.31 152.5,438.97 153.0,438.65 153.5,438.83 154.0,439.08 154.5,438.74 155.0,438.56 155.5,439.01 156.0,439.29 156.5,439.10 157.0,438.80 157.5,438.44 158.0,438.36 158.5,437.99 159.0,437.81 159.5,438.52 160.0,438.50 160.5,438.51 161.0,438.77 161.5,438.46 162.0,438.24 162.5,438.41 163.0,438.24 163.5,438.47 164.0,438.70 164.5,438.80 165.0,438.65 165.5,438.57 166.0,438.14 166.5,438.48 167.0,438.27 167.5,438.54 168.0,438.68 168.5,438.83 169.0,438.60 169.5,438.63 170.0,438.60 170.5,438.67 171.0,438.41 171.5,438.22 172.0,438.13 172.5,437.83 173.0,437.91 173.5,437.79 174.0,437.95 174.5,437.72 175.0,437.81 175.5,437.12 176.0,436.89 176.5,436.86 177.0,436.92 177.5,436.26 178.0,436.38 178.5,436.36 179.0,435.86 179.5,435.38 180.0,435.44 180.5,435.77 181.0,435.62 181.5,435.84 182.0,436.21 182.5,436.25 183.0,435.88 183.5,435.94 184.0,435.51 184.5,435.38 185.0,435.53 185.5,435.52 186.0,435.41 186.5,435.54 187.0,435.52 187.5,435.34 188.0,435.53 188.5,435.72 189.0,435.88 189.5,435.88 190.0,436.21 190.5,436.10 191.0,436.02 191.5,436.24 192.0,436.76 192.5,437.20 193.0,437.42 193.5,437.56 194.0,438.22 194.5,438.05 195.0,437.81 195.5,437.62 196.0,437.83 196.5,437.16 197.0,437.06 197.5,437.08 198.0,437.38 198.5,437.46 199.0,437.65 199.5,437.47 200.0,437.67 200.5,437.53 201.0,437.55 201.5,437.27 202.0,437.81 202.5,437.83 203.0,437.99 203.5,437.97 204.0,438.21 204.5,438.45 205.0,438.28 205.5,438.13 206.0,438.10 206.5,438.26 207.0,437.91 207.5,438.05 208.0,438.37 208.5,438.80 209.0,439.19 209.5,439.16 210.0,439.14 210.5,439.05 211.0,439.00 211.5,438.96 212.0,439.31 212.5,439.40 213.0,439.70 213.5,439.80 214.0,440.42 214.5,440.82 215.0,439.43 215.5,437.45 216.0,436.06 216.5,435.00 217.0,435.69 217.5,437.01 218.0,437.44 218.5,437.80 219.0,437.85 219.5,437.55 220.0,437.71 220.5,438.17 221.0,438.15 221.5,438.49 222.0,439.09 222.5,439.09 223.0,439.29 223.5,439.31 224.0,438.99 224.5,438.79 225.0,438.83 225.5,438.69 226.0,438.59 226.5,438.83 227.0,439.11 227.5,439.11 228.0,438.87 228.5,439.11 229.0,439.21 229.5,438.93 230.0,438.82 230.5,438.50 231.0,437.74 231.5,437.54 232.0,437.75 232.5,437.87 233.0,438.08 233.5,438.76 234.0,439.19 234.5,438.70 235.0,438.43 235.5,438.40 236.0,438.01 236.5,437.28 237.0,437.33 237.5,437.51 238.0,437.84 238.5,438.21 239.0,438.79 239.5,438.89 240.0,438.40 240.5,438.39 241.0,438.22 241.5,437.80 242.0,438.06 242.5,438.34 243.0,438.37 243.5,438.41 244.0,438.86 244.5,438.17 245.0,437.85 245.5,437.43 246.0,437.25 246.5,436.88 247.0,436.74 247.5,436.54 248.0,436.57 248.5,436.12 249.0,436.01 249.5,436.67 250.0,437.32 250.5,437.39 251.0,437.99 251.5,438.22 252.0,438.09 252.5,437.87 253.0,438.10 253.5,438.39 254.0,438.49 254.5,438.66 255.0,439.04 255.5,438.85 256.0,438.49 256.5,438.59 257.0,438.63 257.5,438.71 258.0,438.90 258.5,438.86 259.0,438.89 259.5,439.05 260.0,439.22 260.5,438.93 261.0,438.87 261.5,439.20 262.0,439.06 262.5,439.05 263.0,439.36 263.5,439.37 264.0,438.74 264.5,438.59 265.0,438.47 265.5,438.06 266.0,437.99 266.5,438.23 267.0,438.39 267.5,438.06 268.0,438.27 268.5,438.29 269.0,438.11 269.5,438.44 270.0,438.63 270.5,438.81 271.0,439.14 271.5,439.21 272.0,438.39 272.5,438.59 273.0,438.15 273.5,437.91 274.0,438.05 274.5,438.12 275.0,437.91 275.5,438.09 276.0,437.90 276.5,437.71 277.0,437.91 277.5,437.59 278.0,437.63 278.5,437.94 279.0,437.80 279.5,437.60 280.0,437.63 280.5,437.52 281.0,436.94 281.5,436.93 282.0,436.94 282.5,436.89 283.0,436.78 283.5,436.88 284.0,436.48 284.5,436.50 285.0,436.32 285.5,436.21 286.0,436.14 286.5,436.55 287.0,436.28 287.5,436.05 288.0,436.24 288.5,436.18 289.0,435.94 289.5,436.40 290.0,436.97 290.5,437.32 291.0,437.26 291.5,437.28 292.0,437.09 292.5,436.77 293.0,436.79 293.5,437.48 294.0,437.46 294.5,437.85 295.0,438.46 295.5,438.58 296.0,438.58 296.5,438.76 297.0,438.75 297.5,438.37 298.0,438.12 298.5,438.13 299.0,438.55 299.5,438.55 300.0,438.59 300.5,439.01 301.0,438.83 301.5,438.68 302.0,438.88 302.5,439.06 303.0,438.66 303.5,438.78 304.0,438.60 304.5,438.37 305.0,438.35 305.5,438.34 306.0,438.26 306.5,438.41 307.0,438.70 307.5,438.60 308.0,438.50 308.5,438.55 309.0,438.80 309.5,438.49 310.0,438.75 310.5,438.90 311.0,439.15 311.5,438.96 312.0,438.63 312.5,438.12 313.0,438.41 313.5,437.96 314.0,438.27 314.5,438.77 315.0,438.85 315.5,438.78 316.0,438.85 316.5,438.65 317.0,438.41 317.5,438.45 318.0,438.21 318.5,438.28 319.0,438.14 319.5,438.22 320.0,438.76 320.5,438.54 321.0,438.82 321.5,438.77 322.0,438.49 322.5,438.28 323.0,438.55 323.5,438.28 324.0,437.85 324.5,437.59 325.0,436.13 325.5,433.78 326.0,432.54 326.5,433.70 327.0,435.89 327.5,437.61 328.0,439.10 328.5,440.23 329.0,441.17 329.5,441.01 330.0,441.13 330.5,441.04 331.0,440.01 331.5,439.84 332.0,439.62 332.5,438.82 333.0,438.15 333.5,438.23 334.0,438.02 334.5,438.10 335.0,438.37 335.5,438.84 336.0,439.18 336.5,439.42 337.0,439.74 337.5,439.52 338.0,439.09 338.5,439.05 339.0,438.79 339.5,438.54 340.0,438.98 340.5,438.82 341.0,439.06 341.5,439.11 342.0,439.00 342.5,439.20 343.0,439.24 343.5,438.62 344.0,438.71 344.5,438.67 345.0,438.03 345.5,438.29 346.0,438.36 346.5,438.25 347.0,438.26 347.5,438.23 348.0,438.28 348.5,438.55 349.0,438.52 349.5,438.70 350.0,438.83 350.5,438.79 351.0,438.61 351.5,438.46 352.0,437.93 352.5,437.70 353.0,437.49 353.5,437.55 354.0,437.52 354.5,437.70 355.0,438.11 355.5,438.04 356.0,437.86 356.5,437.62 357.0,437.16 357.5,435.99 358.0,435.03 358.5,433.75 359.0,432.70 359.5,430.71 360.0,426.79 360.5,422.04 361.0,422.34 361.5,427.88 362.0,432.67 362.5,435.95 363.0,438.39 363.5,439.21 364.0,439.26 364.5,439.01 365.0,438.71 365.5,437.93 366.0,438.59 366.5,438.56 367.0,438.68 367.5,438.33 368.0,438.85 368.5,438.61 369.0,439.01 369.5,438.98 370.0,439.42 370.5,439.03 371.0,439.30 371.5,439.19 372.0,439.08 372.5,438.69 373.0,439.08 373.5,438.68 374.0,438.37 374.5,438.56 375.0,438.77 375.5,438.49 376.0,438.50 376.5,438.72 377.0,438.78 377.5,439.22 378.0,439.27 378.5,439.35 379.0,439.35 379.5,438.98 380.0,438.15 380.5,438.44 381.0,438.61 381.5,438.27 382.0,438.91 382.5,439.42 383.0,439.20 383.5,439.14 384.0,439.31 384.5,438.84 385.0,439.17 385.5,438.94 386.0,439.25 386.5,439.03 387.0,438.89 387.5,438.71 388.0,438.83 388.5,438.32 389.0,438.76 389.5,438.81 390.0,438.64 390.5,438.66 391.0,439.04 391.5,438.79 392.0,438.91 392.5,438.90 393.0,438.76 393.5,438.71 394.0,438.64 394.5,438.42 395.0,438.61 395.5,438.80 396.0,438.32 396.5,438.30 397.0,438.38 397.5,438.07 398.0,438.20 398.5,438.23 399.0,438.48 399.5,438.81 400.0,439.24 400.5,439.34 401.0,439.47 401.5,439.43 402.0,439.27 402.5,438.63 403.0,438.22 403.5,438.00 404.0,438.09 404.5,438.03 405.0,438.45 405.5,438.70 406.0,439.06 406.5,439.33 407.0,439.35 407.5,439.22 408.0,439.28 408.5,439.14 409.0,438.57 409.5,438.50 410.0,438.44 410.5,438.58 411.0,438.77 411.5,439.04 412.0,439.05 412.5,439.28 413.0,439.33 413.5,439.26 414.0,438.89 414.5,438.90 415.0,438.51 415.5,438.26 416.0,438.43 416.5,438.63 417.0,438.91 417.5,439.09 418.0,438.70 418.5,438.46 419.0,438.39 419.5,438.10 420.0,437.95 420.5,438.45 421.0,438.68 421.5,439.00 422.0,439.02 422.5,439.02 423.0,438.56 423.5,438.32 424.0,438.02 424.5,437.86 425.0,437.76 425.5,438.06 426.0,438.24 426.5,438.62 427.0,438.90 427.5,439.18 428.0,439.18 428.5,438.77 429.0,438.67 429.5,438.76 430.0,438.45 430.5,438.57 431.0,439.02 431.5,439.01 432.0,438.86 432.5,439.11 433.0,438.84 433.5,438.81 434.0,438.56 434.5,438.19 435.0,438.13 435.5,437.84 436.0,437.39 436.5,436.37 437.0,434.44 437.5,429.78 438.0,430.66 438.5,434.95 439.0,436.70 439.5,437.53 440.0,438.09 440.5,438.34 441.0,438.25 441.5,438.65 442.0,438.65 442.5,438.79 443.0,438.68 443.5,438.79 444.0,438.85 444.5,438.50 445.0,438.46 445.5,438.82 446.0,438.56 446.5,438.85 447.0,439.26 447.5,439.16 448.0,439.07 448.5,439.38 449.0,439.18 449.5,439.05 450.0,439.12 450.5,438.82 451.0,438.92 451.5,438.58 452.0,438.14 452.5,438.60 453.0,438.87 453.5,438.76 454.0,438.96 454.5,439.27 455.0,438.77 455.5,438.76 456.0,439.01 456.5,439.06 457.0,439.21 457.5,439.26 458.0,439.36 458.5,438.98 459.0,438.89 459.5,438.87 460.0,438.85 460.5,438.65 461.0,438.42 461.5,438.39 462.0,438.47 462.5,438.77 463.0,438.74 463.5,438.96 464.0,439.29 464.5,438.76 465.0,437.98 465.5,437.74 466.0,437.93 466.5,437.05 467.0,437.45 467.5,437.86 468.0,438.29 468.5,438.22 469.0,438.82 469.5,438.89 470.0,438.38 470.5,436.53 471.0,434.20 471.5,429.42 472.0,419.83 472.5,412.70 473.0,419.21 473.5,427.78 474.0,431.82 474.5,432.15 475.0,431.52 475.5,430.57 476.0,431.56 476.5,433.46 477.0,435.51 477.5,436.63 478.0,437.63 478.5,437.80 479.0,437.83 479.5,438.30 480.0,438.21 480.5,438.05 481.0,437.78 481.5,438.15 482.0,438.28 482.5,438.57 483.0,438.93 483.5,439.02 484.0,439.02 484.5,438.70 485.0,439.05 485.5,439.13 486.0,438.93 486.5,438.88 487.0,439.26 487.5,438.80 488.0,438.41 488.5,438.43 489.0,438.61 489.5,438.51 490.0,438.54 490.5,438.42 491.0,438.68 491.5,438.08 492.0,438.14 492.5,438.54 493.0,438.82 493.5,438.92 494.0,439.14 494.5,438.98 495.0,438.27 495.5,438.14 496.0,438.10 496.5,438.34 497.0,438.81 497.5,438.94 498.0,439.30 498.5,439.56 499.0,439.68 499.5,439.16 500.0,439.67 500.5,439.32 501.0,439.32 501.5,438.96 502.0,438.45 502.5,438.22 503.0,438.50 503.5,438.41 504.0,438.41 504.5,439.04 505.0,439.03 505.5,438.74 506.0,438.46 506.5,438.83 507.0,438.86 507.5,438.75 508.0,439.06 508.5,438.82 509.0,438.66 509.5,438.80 510.0,439.25 510.5,439.35 511.0,439.81 511.5,439.59 512.0,439.46 512.5,438.89 513.0,438.48 513.5,437.78 514.0,438.08 514.5,437.75 515.0,437.78 515.5,437.85 516.0,438.86 516.5,438.66 517.0,438.72 517.5,439.02 518.0,439.01 518.5,438.99 519.0,438.92 519.5,439.13 520.0,438.82 520.5,439.08 521.0,438.54 521.5,438.92 522.0,438.88 522.5,438.83 523.0,438.55 523.5,438.75 524.0,438.52 524.5,438.54 525.0,438.92 525.5,438.95 526.0,439.10 526.5,439.16 527.0,438.87 527.5,438.55 528.0,438.55 528.5,438.12 529.0,438.12 529.5,438.24 530.0,438.48 530.5,438.74 531.0,438.85 531.5,438.40 532.0,438.76 532.5,438.33 533.0,437.86 533.5,438.09 534.0,437.99 534.5,437.71 535.0,438.33 535.5,438.70 536.0,438.39 536.5,438.92 537.0,438.91 537.5,438.73 538.0,438.63 538.5,438.68 539.0,438.74 539.5,438.77 540.0,438.88 540.5,438.66 541.0,438.64 541.5,438.98 542.0,438.61 542.5,438.68 543.0,438.76 543.5,439.16 544.0,438.58 544.5,439.15 545.0,438.72 545.5,438.80 546.0,438.45 546.5,438.44 547.0,437.91 547.5,438.25 548.0,438.43 548.5,438.10 549.0,438.45 549.5,438.91 550.0,438.56 550.5,438.34 551.0,438.50 551.5,438.03 552.0,437.80 552.5,437.04 553.0,435.32 553.5,432.68 554.0,428.78 554.5,422.61 555.0,414.78 555.5,405.12 556.0,394.42 556.5,383.17 557.0,372.47 557.5,362.81 558.0,354.26 558.5,345.50 559.0,337.45 559.5,330.22 560.0,325.26 560.5,323.23 561.0,326.28 561.5,333.23 562.0,343.40 562.5,355.34 563.0,367.76 563.5,377.98 564.0,385.10 564.5,388.94 565.0,389.42 565.5,388.95 566.0,391.87 566.5,398.67 567.0,405.40 567.5,410.44 568.0,414.05 568.5,416.84 569.0,418.07 569.5,419.83 570.0,421.09 570.5,422.31 571.0,423.54 571.5,425.07 572.0,425.78 572.5,426.70 573.0,427.34 573.5,427.74 574.0,428.29 574.5,428.28 575.0,428.45 575.5,428.48 576.0,428.41 576.5,428.40 577.0,428.57 577.5,428.31 578.0,428.60 578.5,428.18 579.0,427.19 579.5,426.73 580.0,425.61 580.5,423.35 581.0,421.02 581.5,418.09 582.0,414.76 582.5,412.46 583.0,411.44 583.5,412.56 584.0,415.42 584.5,419.13 585.0,422.88 585.5,426.66 586.0,428.78 586.5,429.98 587.0,430.89 587.5,431.69 588.0,431.96 588.5,432.38 589.0,432.82 589.5,432.58 590.0,432.65 590.5,432.77 591.0,432.44 591.5,431.81 592.0,431.54 592.5,430.86 593.0,429.73 593.5,428.31 594.0,426.24 594.5,422.69 595.0,416.77 595.5,409.62 596.0,408.08 596.5,414.45 597.0,421.57 597.5,426.33 598.0,429.39 598.5,431.44 599.0,432.89 599.5,433.87 600.0,434.35 600.5,435.10 601.0,435.22 601.5,435.38 602.0,435.38 602.5,435.62 603.0,435.48 603.5,435.55 604.0,435.90 604.5,435.63 605.0,435.46 605.5,435.56 606.0,435.47 606.5,435.08 607.0,435.32 607.5,435.80 608.0,435.89 608.5,435.24 609.0,431.56 609.5,420.96 610.0,403.95 610.5,389.28 611.0,389.75 611.5,403.88 612.0,420.62 612.5,430.47 613.0,433.13 613.5,431.05 614.0,429.78 614.5,431.13 615.0,433.99 615.5,435.98 616.0,437.43 616.5,437.61 617.0,438.20 617.5,438.32 618.0,439.02 618.5,438.73 619.0,439.05 619.5,438.70 620.0,438.78 620.5,438.42 621.0,438.66 621.5,438.40 622.0,438.66 622.5,438.66 623.0,438.85 623.5,438.82 624.0,439.15 624.5,439.53 625.0,439.43 625.5,439.26 626.0,439.09 626.5,439.12 627.0,438.55 627.5,438.53 628.0,438.57 628.5,438.86 629.0,438.72 629.5,439.02 630.0,438.81 630.5,438.81 631.0,438.27 631.5,438.50 632.0,438.17 632.5,438.33 633.0,438.09 633.5,438.39 634.0,438.32 634.5,438.64 635.0,438.42 635.5,438.57 636.0,438.89 636.5,438.53 637.0,438.26 637.5,438.67 638.0,438.98 638.5,439.47 639.0,439.72 639.5,439.68 640.0,439.85 640.5,439.29 641.0,438.63 641.5,438.63 642.0,438.62 642.5,438.63 643.0,439.33 643.5,439.42 644.0,439.28 644.5,439.26 645.0,438.86 645.5,438.26 646.0,438.22 646.5,438.29 647.0,438.17 647.5,438.08 648.0,438.27 648.5,438.16 649.0,438.25 649.5,438.23 650.0,438.67 650.5,438.87 651.0,438.81 651.5,438.78 652.0,438.90 652.5,438.41 653.0,437.91 653.5,438.18 654.0,437.64 654.5,438.02 655.0,438.00 655.5,438.42 656.0,438.45 656.5,438.92 657.0,438.21 657.5,438.16 658.0,437.51 658.5,437.25 659.0,437.46 659.5,437.70 660.0,437.51 660.5,437.43 661.0,437.18 661.5,436.41 662.0,436.14 662.5,436.40 663.0,436.62 663.5,436.45 664.0,436.60 664.5,437.10 665.0,437.23 665.5,437.27 666.0,437.37 666.5,437.67 667.0,437.41 667.5,437.51 668.0,438.17 668.5,438.39 669.0,438.32 669.5,438.51 670.0,438.44 670.5,437.77 671.0,437.72 671.5,437.74 672.0,437.81 672.5,437.88 673.0,438.05 673.5,438.30 674.0,438.60 674.5,438.52 675.0,438.66 675.5,439.02 676.0,439.13 676.5,439.21 677.0,439.19 677.5,439.35 678.0,439.29 678.5,439.08 679.0,438.62 679.5,438.62 680.0,438.38 680.5,438.32 681.0,438.23 681.5,438.36 682.0,438.10 682.5,437.92 683.0,437.72 683.5,437.86 684.0,437.90"/>
<polyline fill="none" stroke="#ff8080" stroke-width="1.8" stroke-linejoin="round" points="10.5,301.00 11.0,301.01 11.5,301.13 12.0,301.26 12.5,301.53 13.0,301.77 13.5,301.89 14.0,301.71 14.5,301.29 15.0,301.25 15.5,301.30 16.0,301.32 16.5,300.94 17.0,300.93 17.5,300.58 18.0,300.38 18.5,300.34 19.0,300.67 19.5,301.13 20.0,301.18 20.5,301.34 21.0,301.35 21.5,301.23 22.0,301.47 22.5,301.71 23.0,301.89 23.5,301.69 24.0,301.67 24.5,301.25 25.0,301.12 25.5,301.01 26.0,301.18 26.5,301.24 27.0,301.12 27.5,301.03 28.0,301.15 28.5,300.94 29.0,301.08 29.5,301.36 30.0,301.16 30.5,300.93 31.0,301.35 31.5,300.90 32.0,300.75 32.5,301.03 33.0,300.85 33.5,300.69 34.0,301.08 34.5,300.85 35.0,301.04 35.5,301.34 36.0,301.43 36.5,301.73 37.0,302.10 37.5,301.96 38.0,301.56 38.5,301.49 39.0,301.08 39.5,300.92 40.0,300.64 40.5,300.70 41.0,300.47 41.5,300.86 42.0,300.54 42.5,300.50 43.0,300.74 43.5,301.14 44.0,301.00 44.5,301.02 45.0,300.81 45.5,300.83 46.0,300.39 46.5,300.05 47.0,300.63 47.5,301.36 48.0,301.32 48.5,301.52 49.0,301.83 49.5,301.95 50.0,301.86 50.5,301.93 51.0,301.99 51.5,301.59 52.0,301.52 52.5,301.59 53.0,301.59 53.5,301.09 54.0,301.27 54.5,301.19 55.0,300.63 55.5,300.49 56.0,301.09 56.5,300.95 57.0,301.11 57.5,301.58 58.0,301.59 58.5,301.45 59.0,301.84 59.5,301.54 60.0,301.66 60.5,301.56 61.0,301.41 61.5,301.49 62.0,301.47 62.5,301.06 63.0,301.39 63.5,301.76 64.0,301.46 64.5,301.18 65.0,301.33 65.5,301.11 66.0,300.76 66.5,301.13 67.0,301.20 67.5,301.48 68.0,301.25 68.5,301.16 69.0,301.00 69.5,301.43 70.0,301.35 70.5,301.68 71.0,301.86 71.5,301.77 72.0,301.66 72.5,301.45 73.0,301.43 73.5,301.52 74.0,301.49 74.5,301.53 75.0,301.68 75.5,302.03 76.0,301.98 76.5,301.89 77.0,301.66 77.5,301.54 78.0,301.32 78.5,301.19 79.0,301.35 79.5,301.80 80.0,301.29 80.5,300.87 81.0,300.99 81.5,300.99 82.0,300.67 82.5,301.10 83.0,301.46 83.5,301.46 84.0,301.28 84.5,301.72 85.0,301.88 85.5,301.63 86.0,301.56 86.5,301.62 87.0,301.11 87.5,300.49 88.0,300.51 88.5,300.73 89.0,300.54 89.5,300.54 90.0,301.28 90.5,301.55 91.0,301.65 91.5,301.54 92.0,301.48 92.5,301.22 93.0,301.17 93.5,301.09 94.0,300.89 94.5,301.18 95.0,300.96 95.5,300.97 96.0,300.45 96.5,301.02 97.0,301.05 97.5,301.31 98.0,301.21 98.5,301.67 99.0,301.66 99.5,301.40 100.0,301.74 100.5,301.91 101.0,301.69 101.5,302.21 102.0,302.00 102.5,301.87 103.0,301.61 103.5,301.69 104.0,301.28 104.5,301.55 105.0,301.50 105.5,301.24 106.0,300.91 106.5,300.89 107.0,300.65 107.5,300.31 108.0,300.32 108.5,300.88 109.0,300.91 109.5,301.39 110.0,301.41 110.5,301.70 111.0,301.22 111.5,301.22 112.0,301.24 112.5,301.24 113.0,301.55 113.5,301.98 114.0,301.79 114.5,301.06 115.0,301.52 115.5,301.18 116.0,300.86 116.5,300.97 117.0,301.44 117.5,301.45 118.0,301.26 118.5,301.60 119.0,301.81 119.5,302.01 120.0,301.66 120.5,301.70 121.0,301.65 121.5,301.36 122.0,301.07 122.5,301.36 123.0,301.43 123.5,300.72 124.0,300.57 124.5,300.11 125.0,299.90 125.5,299.91 126.0,300.09 126.5,299.94 127.0,300.09 127.5,299.21 128.0,298.05 128.5,295.88 129.0,293.18 129.5,291.68 130.0,293.54 130.5,295.96 131.0,298.33 131.5,299.01 132.0,299.09 132.5,298.60 133.0,298.97 133.5,298.40 134.0,298.42 134.5,297.99 135.0,297.42 135.5,295.72 136.0,294.28 136.5,292.89 137.0,291.84 137.5,291.93 138.0,292.78 138.5,293.10 139.0,292.67 139.5,293.00 140.0,294.22 140.5,295.21 141.0,296.56 141.5,298.16 142.0,299.24 142.5,299.58 143.0,300.44 143.5,300.84 144.0,300.57 144.5,300.22 145.0,300.18 145.5,300.28 146.0,300.19 146.5,300.30 147.0,300.50 147.5,300.36 148.0,300.18 148.5,300.08 149.0,300.36 149.5,300.06 150.0,300.45 150.5,300.36 151.0,300.22 151.5,300.30 152.0,300.73 152.5,300.23 153.0,300.19 153.5,300.64 154.0,300.41 154.5,300.63 155.0,301.23 155.5,301.55 156.0,301.56 156.5,301.92 157.0,301.90 157.5,301.84 158.0,301.29 158.5,301.40 159.0,301.39 159.5,301.20 160.0,301.01 160.5,301.82 161.0,301.27 161.5,301.10 162.0,301.64 162.5,301.53 163.0,301.27 163.5,301.99 164.0,301.85 164.5,301.46 165.0,301.80 165.5,301.45 166.0,301.03 166.5,301.08 167.0,301.10 167.5,300.87 168.0,300.97 168.5,300.73 169.0,300.55 169.5,300.50 170.0,300.47 170.5,300.27 171.0,300.23 171.5,300.76 172.0,300.73 172.5,300.75 173.0,300.31 173.5,300.50 174.0,299.96 174.5,299.96 175.0,299.81 175.5,300.20 176.0,300.06 176.5,299.45 177.0,299.19 177.5,299.05 178.0,298.79 178.5,298.82 179.0,299.45 179.5,298.83 180.0,298.51 180.5,298.59 181.0,298.24 181.5,297.68 182.0,297.66 182.5,298.12 183.0,298.17 183.5,297.81 184.0,297.54 184.5,298.01 185.0,297.72 185.5,297.82 186.0,298.19 186.5,298.25 187.0,297.94 187.5,297.30 188.0,296.79 188.5,296.63 189.0,296.94 189.5,296.77 190.0,297.23 190.5,297.53 191.0,297.68 191.5,297.78 192.0,298.05 192.5,298.09 193.0,298.26 193.5,298.29 194.0,298.10 194.5,298.05 195.0,298.23 195.5,298.17 196.0,298.31 196.5,298.60 197.0,298.88 197.5,298.98 198.0,298.87 198.5,299.05 199.0,299.39 199.5,299.57 200.0,299.68 200.5,300.15 201.0,300.00 201.5,299.55 202.0,299.62 202.5,299.64 203.0,299.89 203.5,300.10 204.0,300.22 204.5,300.30 205.0,301.12 205.5,301.16 206.0,301.25 206.5,301.61 207.0,301.78 207.5,301.37 208.0,301.30 208.5,301.74 209.0,301.93 209.5,301.75 210.0,301.73 210.5,302.01 211.0,301.90 211.5,301.97 212.0,301.76 212.5,301.62 213.0,301.44 213.5,301.20 214.0,301.22 214.5,301.56 215.0,301.78 215.5,301.60 216.0,302.18 216.5,302.22 217.0,302.06 217.5,301.90 218.0,302.47 218.5,301.90 219.0,301.82 219.5,302.07 220.0,302.05 220.5,301.30 221.0,301.41 221.5,301.31 222.0,301.34 222.5,301.49 223.0,301.74 223.5,301.87 224.0,301.91 224.5,301.72 225.0,301.58 225.5,301.52 226.0,301.49 226.5,301.17 227.0,301.00 227.5,300.99 228.0,300.74 228.5,300.52 229.0,300.33 229.5,300.31 230.0,300.43 230.5,300.84 231.0,300.91 231.5,301.27 232.0,301.12 232.5,301.37 233.0,301.36 233.5,301.59 234.0,301.46 234.5,301.71 235.0,300.98 235.5,301.03 236.0,301.00 236.5,300.79 237.0,300.82 237.5,301.31 238.0,300.80 238.5,300.24 239.0,300.41 239.5,300.29 240.0,299.88 240.5,300.25 241.0,300.66 241.5,301.00 242.0,301.27 242.5,301.86 243.0,302.08 243.5,301.77 244.0,301.54 244.5,301.18 245.0,300.66 245.5,300.41 246.0,300.68 246.5,300.88 247.0,300.77 247.5,300.74 248.0,300.75 248.5,300.71 249.0,300.55 249.5,300.85 250.0,300.95 250.5,301.09 251.0,301.20 251.5,301.25 252.0,301.12 252.5,301.24 253.0,300.55 253.5,300.28 254.0,300.31 254.5,300.14 255.0,300.21 255.5,300.79 256.0,300.71 256.5,300.65 257.0,300.89 257.5,300.94 258.0,301.03 258.5,301.30 259.0,301.18 259.5,301.21 260.0,301.10 260.5,301.13 261.0,301.19 261.5,301.22 262.0,300.97 262.5,300.91 263.0,300.61 263.5,300.32 264.0,300.44 264.5,300.62 265.0,300.71 265.5,300.96 266.0,301.10 266.5,301.59 267.0,301.62 267.5,301.81 268.0,301.73 268.5,302.03 269.0,301.08 269.5,300.99 270.0,300.82 270.5,300.91 271.0,301.15 271.5,301.68 272.0,302.09 272.5,302.18 273.0,302.24 273.5,301.87 274.0,301.76 274.5,301.59 275.0,301.21 275.5,301.24 276.0,300.92 276.5,300.98 277.0,301.28 277.5,301.43 278.0,301.17 278.5,301.57 279.0,301.49 279.5,300.86 280.0,300.90 280.5,300.95 281.0,300.78 281.5,300.52 282.0,300.91 282.5,301.02 283.0,300.67 283.5,300.24 284.0,299.81 284.5,299.04 285.0,297.60 285.5,296.48 286.0,294.82 286.5,293.15 287.0,291.67 287.5,291.54 288.0,291.94 288.5,293.24 289.0,295.16 289.5,296.51 290.0,297.56 290.5,298.83 291.0,299.90 291.5,300.12 292.0,300.93 292.5,301.11 293.0,301.13 293.5,300.90 294.0,301.10 294.5,300.36 295.0,300.79 295.5,300.96 296.0,300.89 296.5,300.63 297.0,300.69 297.5,300.59 298.0,300.25 298.5,300.50 299.0,300.76 299.5,301.07 300.0,300.63 300.5,300.74 301.0,300.47 301.5,300.53 302.0,300.63 302.5,300.95 303.0,300.90 303.5,301.02 304.0,301.07 304.5,300.91 305.0,301.14 305.5,301.34 306.0,301.50 306.5,301.38 307.0,301.33 307.5,300.83 308.0,300.60 308.5,300.69 309.0,300.88 309.5,301.14 310.0,301.74 310.5,301.67 311.0,301.60 311.5,302.05 312.0,301.55 312.5,301.01 313.0,301.17 313.5,301.17 314.0,300.66 314.5,300.94 315.0,301.06 315.5,300.93 316.0,300.87 316.5,300.08 317.0,299.36 317.5,298.40 318.0,297.12 318.5,296.21 319.0,297.26 319.5,298.37 320.0,299.39 320.5,300.33 321.0,300.94 321.5,301.09 322.0,301.31 322.5,300.96 323.0,300.85 323.5,300.91 324.0,300.73 324.5,300.75 325.0,301.20 325.5,301.04 326.0,301.08 326.5,301.57 327.0,301.49 327.5,301.37 328.0,301.52 328.5,301.70 329.0,301.39 329.5,301.69 330.0,301.52 330.5,301.55 331.0,301.24 331.5,300.81 332.0,300.92 332.5,301.24 333.0,300.89 333.5,301.04 334.0,301.37 334.5,301.17 335.0,301.05 335.5,301.10 336.0,300.90 336.5,301.23 337.0,301.01 337.5,300.73 338.0,300.75 338.5,300.54 339.0,300.30 339.5,300.75 340.0,301.03 340.5,301.34 341.0,302.02 341.5,301.83 342.0,301.34 342.5,301.34 343.0,301.38 343.5,300.70 344.0,300.54 344.5,300.71 345.0,300.61 345.5,300.19 346.0,300.30 346.5,300.36 347.0,300.32 347.5,300.15 348.0,300.28 348.5,300.09 349.0,300.21 349.5,300.10 350.0,299.61 350.5,299.11 351.0,297.93 351.5,296.08 352.0,293.66 352.5,291.29 353.0,288.69 353.5,288.16 354.0,289.30 354.5,290.30 355.0,290.62 355.5,290.06 356.0,288.95 356.5,288.02 357.0,288.98 357.5,291.35 358.0,294.04 358.5,295.86 359.0,297.69 359.5,298.96 360.0,299.42 360.5,299.84 361.0,299.89 361.5,299.76 362.0,299.95 362.5,300.35 363.0,300.31 363.5,300.76 364.0,300.83 364.5,300.94 365.0,301.15 365.5,301.08 366.0,301.52 366.5,301.55 367.0,301.52 367.5,301.24 368.0,301.60 368.5,300.89 369.0,300.61 369.5,300.75 370.0,300.88 370.5,300.81 371.0,301.60 371.5,302.07 372.0,302.01 372.5,302.04 373.0,302.00 373.5,301.81 374.0,301.53 374.5,301.40 375.0,300.53 375.5,300.62 376.0,300.22 376.5,300.66 377.0,301.17 377.5,301.86 378.0,301.65 378.5,301.63 379.0,301.28 379.5,300.72 380.0,300.85 380.5,300.91 381.0,301.03 381.5,301.16 382.0,301.48 382.5,301.45 383.0,301.41 383.5,301.54 384.0,301.54 384.5,301.13 385.0,301.32 385.5,301.45 386.0,301.12 386.5,301.37 387.0,301.67 387.5,301.06 388.0,301.30 388.5,301.56 389.0,301.52 389.5,301.49 390.0,301.78 390.5,301.14 391.0,301.27 391.5,301.10 392.0,301.00 392.5,301.10 393.0,301.43 393.5,301.37 394.0,301.29 394.5,301.34 395.0,300.84 395.5,300.74 396.0,300.74 396.5,301.08 397.0,301.02 397.5,301.42 398.0,301.83 398.5,301.63 399.0,301.51 399.5,301.92 400.0,301.95 400.5,301.88 401.0,301.80 401.5,301.69 402.0,301.34 402.5,301.36 403.0,301.34 403.5,301.96 404.0,301.79 404.5,301.68 405.0,301.76 405.5,301.32 406.0,300.94 406.5,301.19 407.0,301.25 407.5,301.26 408.0,301.16 408.5,301.21 409.0,300.78 409.5,300.70 410.0,300.48 410.5,300.71 411.0,300.73 411.5,301.05 412.0,301.11 412.5,301.33 413.0,301.73 413.5,301.56 414.0,301.62 414.5,301.95 415.0,301.89 415.5,301.31 416.0,301.81 416.5,302.18 417.0,301.53 417.5,301.46 418.0,301.80 418.5,301.49 419.0,301.18 419.5,301.52 420.0,301.31 420.5,301.25 421.0,301.26 421.5,300.89 422.0,300.74 422.5,300.93 423.0,300.51 423.5,300.24 424.0,300.35 424.5,300.63 425.0,300.46 425.5,300.63 426.0,300.54 426.5,300.53 427.0,300.16 427.5,300.01 428.0,299.74 428.5,298.95 429.0,297.74 429.5,296.78 430.0,297.63 430.5,298.54 431.0,299.79 431.5,299.90 432.0,300.34 432.5,300.68 433.0,300.99 433.5,300.76 434.0,300.94 434.5,300.61 435.0,300.59 435.5,301.12 436.0,300.66 436.5,300.84 437.0,301.26 437.5,301.30 438.0,301.15 438.5,301.80 439.0,301.59 439.5,301.73 440.0,301.55 440.5,301.61 441.0,301.19 441.5,301.21 442.0,301.38 442.5,301.56 443.0,301.38 443.5,301.31 444.0,301.17 444.5,300.86 445.0,300.96 445.5,301.08 446.0,301.41 446.5,301.56 447.0,301.79 447.5,301.52 448.0,301.32 448.5,301.40 449.0,301.41 449.5,301.08 450.0,301.04 450.5,301.10 451.0,301.04 451.5,301.09 452.0,300.90 452.5,301.10 453.0,301.18 453.5,300.85 454.0,300.93 454.5,301.11 455.0,300.94 455.5,301.06 456.0,301.52 456.5,301.21 457.0,301.34 457.5,301.22 458.0,301.51 458.5,301.13 459.0,301.48 459.5,301.24 460.0,301.55 460.5,301.50 461.0,301.04 461.5,300.67 462.0,300.84 462.5,300.58 463.0,299.91 463.5,300.73 464.0,300.68 464.5,300.03 465.0,299.90 465.5,299.18 466.0,298.08 466.5,296.26 467.0,293.65 467.5,289.43 468.0,285.86 468.5,285.56 469.0,289.03 469.5,292.75 470.0,294.81 470.5,295.73 471.0,296.79 471.5,297.73 472.0,298.15 472.5,298.08 473.0,298.69 473.5,299.15 474.0,299.57 474.5,299.93 475.0,300.13 475.5,300.41 476.0,300.47 476.5,300.94 477.0,300.65 477.5,301.15 478.0,301.17 478.5,301.29 479.0,300.72 479.5,301.17 480.0,301.11 480.5,301.17 481.0,300.91 481.5,301.04 482.0,300.69 482.5,300.54 483.0,300.71 483.5,300.89 484.0,300.75 484.5,300.94 485.0,301.47 485.5,301.06 486.0,300.98 486.5,301.20 487.0,301.27 487.5,301.01 488.0,300.79 488.5,301.06 489.0,301.02 489.5,300.92 490.0,300.93 490.5,301.41 491.0,301.08 491.5,300.81 492.0,300.66 492.5,300.59 493.0,300.42 493.5,300.27 494.0,300.61 494.5,300.49 495.0,300.74 495.5,300.66 496.0,300.97 496.5,301.11 497.0,301.42 497.5,301.14 498.0,301.35 498.5,301.31 499.0,300.68 499.5,300.52 500.0,300.70 500.5,300.59 501.0,300.58 501.5,301.07 502.0,301.35 502.5,301.50 503.0,301.71 503.5,301.63 504.0,301.48 504.5,301.27 505.0,301.02 505.5,300.86 506.0,300.57 506.5,300.51 507.0,300.55 507.5,300.42 508.0,300.45 508.5,300.89 509.0,300.93 509.5,301.34 510.0,301.01 510.5,300.97 511.0,300.50 511.5,300.73 512.0,300.84 512.5,300.85 513.0,300.92 513.5,301.39 514.0,301.12 514.5,300.70 515.0,300.74 515.5,300.88 516.0,300.85 516.5,300.91 517.0,300.67 517.5,301.25 518.0,300.97 518.5,300.94 519.0,300.82 519.5,300.48 520.0,300.34 520.5,300.47 521.0,300.57 521.5,300.49 522.0,300.93 522.5,301.05 523.0,301.03 523.5,301.11 524.0,301.68 524.5,301.49 525.0,300.97 525.5,301.10 526.0,301.15 526.5,300.92 527.0,301.26 527.5,301.50 528.0,301.17 528.5,301.03 529.0,300.64 529.5,300.10 530.0,300.00 530.5,300.63 531.0,300.81 531.5,300.84 532.0,301.03 532.5,301.26 533.0,300.58 533.5,300.43 534.0,300.52 534.5,300.41 535.0,300.60 535.5,300.59 536.0,300.34 536.5,300.31 537.0,300.42 537.5,300.17 538.0,300.09 538.5,299.56 539.0,298.81 539.5,297.77 540.0,295.83 540.5,293.73 541.0,292.71 541.5,293.75 542.0,295.90 542.5,297.67 543.0,298.42 543.5,298.07 544.0,297.60 544.5,297.11 545.0,296.60 545.5,295.73 546.0,294.93 546.5,293.77 547.0,292.19 547.5,290.72 548.0,289.45 548.5,288.32 549.0,287.45 549.5,286.66 550.0,285.99 550.5,285.33 551.0,284.62 551.5,283.79 552.0,282.68 552.5,280.14 553.0,276.31 553.5,270.60 554.0,261.81 554.5,250.32 555.0,236.75 555.5,224.02 556.0,215.76 556.5,212.99 557.0,212.09 557.5,210.49 558.0,206.67 558.5,200.86 559.0,194.35 559.5,189.52 560.0,186.69 560.5,186.94 561.0,190.98 561.5,197.74 562.0,205.96 562.5,215.60 563.0,225.65 563.5,235.16 564.0,243.81 564.5,251.61 565.0,258.11 565.5,263.25 566.0,266.86 566.5,269.80 567.0,271.92 567.5,273.02 568.0,273.72 568.5,274.18 569.0,274.06 569.5,273.70 570.0,274.15 570.5,274.77 571.0,275.36 571.5,276.40 572.0,277.34 572.5,279.00 573.0,280.16 573.5,281.54 574.0,282.61 574.5,284.02 575.0,284.21 575.5,284.71 576.0,285.03 576.5,285.26 577.0,285.15 577.5,284.85 578.0,284.61 578.5,283.67 579.0,282.32 579.5,280.96 580.0,279.49 580.5,277.42 581.0,276.07 581.5,275.55 582.0,275.13 582.5,275.90 583.0,277.85 583.5,280.14 584.0,282.43 584.5,285.06 585.0,287.15 585.5,288.53 586.0,289.77 586.5,290.62 587.0,290.59 587.5,290.79 588.0,290.47 588.5,289.89 589.0,288.75 589.5,287.75 590.0,286.36 590.5,284.53 591.0,282.89 591.5,282.38 592.0,282.63 592.5,283.53 593.0,286.10 593.5,288.56 594.0,290.54 594.5,292.33 595.0,293.98 595.5,294.53 596.0,295.12 596.5,295.95 597.0,296.81 597.5,297.29 598.0,297.80 598.5,297.98 599.0,297.96 599.5,297.96 600.0,297.69 600.5,297.17 601.0,296.91 601.5,296.54 602.0,295.76 602.5,294.93 603.0,294.28 603.5,293.67 604.0,292.94 604.5,292.86 605.0,292.76 605.5,292.39 606.0,292.11 606.5,291.36 607.0,288.53 607.5,285.31 608.0,280.86 608.5,275.18 609.0,269.05 609.5,265.80 610.0,265.56 610.5,269.49 611.0,275.49 611.5,282.72 612.0,288.20 612.5,292.35 613.0,295.07 613.5,296.83 614.0,297.61 614.5,298.64 615.0,299.34 615.5,299.88 616.0,300.04 616.5,300.22 617.0,300.44 617.5,300.63 618.0,300.72 618.5,300.86 619.0,301.31 619.5,301.04 620.0,301.06 620.5,301.31 621.0,301.35 621.5,301.23 622.0,301.14 622.5,301.24 623.0,301.07 623.5,300.82 624.0,300.80 624.5,300.86 625.0,300.93 625.5,300.76 626.0,301.06 626.5,300.99 627.0,301.11 627.5,300.91 628.0,300.95 628.5,301.12 629.0,301.07 629.5,301.19 630.0,300.59 630.5,300.94 631.0,300.81 631.5,300.46 632.0,300.44 632.5,301.09 633.0,301.08 633.5,300.86 634.0,301.53 634.5,301.48 635.0,301.87 635.5,301.63 636.0,301.99 636.5,301.60 637.0,301.41 637.5,301.15 638.0,301.37 638.5,301.54 639.0,301.79 639.5,301.90 640.0,301.35 640.5,301.03 641.0,300.59 641.5,300.25 642.0,300.49 642.5,300.89 643.0,300.96 643.5,301.13 644.0,301.27 644.5,301.19 645.0,301.27 645.5,301.52 646.0,301.34 646.5,301.06 647.0,301.30 647.5,301.17 648.0,301.19 648.5,300.99 649.0,301.21 649.5,300.91 650.0,300.57 650.5,300.21 651.0,300.63 651.5,300.84 652.0,301.02 652.5,300.92 653.0,300.42 653.5,299.95 654.0,299.43 654.5,298.80 655.0,298.76 655.5,299.60 656.0,300.14 656.5,300.48 657.0,300.64 657.5,301.16 658.0,301.29 658.5,301.09 659.0,300.66 659.5,300.85 660.0,300.91 660.5,300.78 661.0,301.08 661.5,301.35 662.0,301.28 662.5,301.13 663.0,301.25 663.5,301.39 664.0,301.47 664.5,301.90 665.0,302.28 665.5,302.32 666.0,302.12 666.5,302.53 667.0,302.09 667.5,301.76 668.0,301.39 668.5,301.37 669.0,301.28 669.5,301.43 670.0,301.54 670.5,301.71 671.0,301.65 671.5,301.09 672.0,301.20 672.5,301.03 673.0,300.85 673.5,300.67 674.0,300.79 674.5,300.75 675.0,301.05 675.5,301.00 676.0,301.34 676.5,301.68 677.0,301.39 677.5,300.88 678.0,301.01 678.5,300.69 679.0,300.58 679.5,300.63"/>
<polyline fill="none" stroke="#000000" stroke-width="1.8" stroke-linejoin="round" points="10.5,255.16 11.0,254.99 11.5,255.34 12.0,255.27 12.5,255.84 13.0,255.78 13.5,256.20 14.0,255.98 14.5,255.83 15.0,255.64 15.5,255.52 16.0,255.41 16.5,255.56 17.0,255.69 17.5,255.60 18.0,256.14 18.5,256.20 19.0,256.00 19.5,256.02 20.0,256.00 20.5,255.60 21.0,255.53 21.5,255.94 22.0,255.92 22.5,256.03 23.0,256.20 23.5,256.57 24.0,256.21 24.5,256.11 25.0,256.47 25.5,256.14 26.0,255.77 26.5,255.90 27.0,256.36 27.5,255.82 28.0,255.67 28.5,255.83 29.0,255.65 29.5,255.23 30.0,255.45 30.5,255.86 31.0,255.81 31.5,255.82 32.0,256.08 32.5,256.25 33.0,256.22 33.5,256.10 34.0,256.28 34.5,256.16 35.0,255.76 35.5,255.68 36.0,255.91 36.5,255.79 37.0,255.66 37.5,255.85 38.0,255.92 38.5,255.76 39.0,255.47 39.5,255.80 40.0,255.79 40.5,255.66 41.0,255.81 41.5,256.17 42.0,255.89 42.5,256.03 43.0,256.52 43.5,256.45 44.0,256.65 44.5,256.99 45.0,256.66 45.5,256.23 46.0,256.26 46.5,255.75 47.0,255.37 47.5,255.73 48.0,255.97 48.5,255.94 49.0,255.91 49.5,256.32 50.0,256.21 50.5,256.16 51.0,256.15 51.5,256.18 52.0,255.59 52.5,255.31 53.0,255.49 53.5,255.28 54.0,255.51 54.5,255.70 55.0,255.98 55.5,255.75 56.0,255.93 56.5,255.77 57.0,255.32 57.5,255.25 58.0,255.22 58.5,255.37 59.0,255.55 59.5,255.94 60.0,255.98 60.5,255.70 61.0,255.34 61.5,255.20 62.0,255.34 62.5,255.60 63.0,255.97 63.5,256.31 64.0,256.50 64.5,256.50 65.0,256.10 65.5,255.94 66.0,255.38 66.5,255.15 67.0,254.91 67.5,255.11 68.0,255.26 68.5,255.82 69.0,256.25 69.5,256.40 70.0,256.44 70.5,256.64 71.0,256.46 71.5,256.39 72.0,256.41 72.5,255.99 73.0,255.70 73.5,255.57 74.0,255.42 74.5,255.37 75.0,255.68 75.5,255.32 76.0,255.78 76.5,255.97 77.0,255.99 77.5,255.80 78.0,256.13 78.5,255.91 79.0,255.77 79.5,255.88 80.0,255.72 80.5,255.54 81.0,255.64 81.5,255.62 82.0,255.31 82.5,255.49 83.0,255.44 83.5,255.07 84.0,255.21 84.5,255.42 85.0,255.73 85.5,255.99 86.0,255.91 86.5,255.62 87.0,256.02 87.5,255.72 88.0,255.52 88.5,255.96 89.0,256.07 89.5,255.71 90.0,256.06 90.5,255.95 91.0,255.82 91.5,255.64 92.0,255.41 92.5,255.05 93.0,255.51 93.5,255.42 94.0,255.30 94.5,255.35 95.0,255.72 95.5,255.70 96.0,255.55 96.5,256.23 97.0,256.34 97.5,255.91 98.0,255.72 98.5,256.05 99.0,255.92 99.5,256.14 100.0,256.26 100.5,256.19 101.0,255.81 101.5,255.54 102.0,255.28 102.5,255.39 103.0,255.27 103.5,255.42 104.0,255.29 104.5,255.19 105.0,254.96 105.5,255.00 106.0,254.89 106.5,255.12 107.0,255.33 107.5,255.31 108.0,255.55 108.5,255.79 109.0,255.93 109.5,255.88 110.0,256.05 110.5,255.86 111.0,255.83 111.5,255.67 112.0,255.73 112.5,255.72 113.0,255.92 113.5,255.91 114.0,255.87 114.5,255.69 115.0,255.75 115.5,255.50 116.0,255.34 116.5,255.33 117.0,255.81 117.5,255.92 118.0,256.08 118.5,256.17 119.0,256.29 119.5,256.17 120.0,256.19 120.5,256.14 121.0,256.18 121.5,255.94 122.0,255.65 122.5,255.28 123.0,255.23 123.5,254.81 124.0,254.61 124.5,254.64 125.0,254.53 125.5,254.52 126.0,254.46 126.5,254.33 127.0,253.92 127.5,253.21 128.0,251.61 128.5,248.86 129.0,241.61 129.5,230.29 130.0,223.26 130.5,230.49 131.0,241.23 131.5,248.69 132.0,252.28 132.5,253.72 133.0,254.34 133.5,254.52 134.0,254.40 134.5,254.34 135.0,254.66 135.5,254.84 136.0,255.27 136.5,255.73 137.0,255.87 137.5,256.13 138.0,256.06 138.5,255.86 139.0,255.66 139.5,255.89 140.0,255.55 140.5,255.53 141.0,255.71 141.5,255.97 142.0,255.78 142.5,255.77 143.0,256.07 143.5,256.16 144.0,256.14 144.5,256.04 145.0,256.13 145.5,256.02 146.0,255.58 146.5,255.62 147.0,255.77 147.5,255.67 148.0,255.98 148.5,256.29 149.0,255.98 149.5,255.96 150.0,256.11 150.5,255.88 151.0,255.85 151.5,255.82 152.0,255.72 152.5,255.50 153.0,255.21 153.5,255.21 154.0,255.27 154.5,255.40 155.0,255.39 155.5,255.42 156.0,255.40 156.5,255.42 157.0,255.60 157.5,255.58 158.0,255.75 158.5,255.78 159.0,255.62 159.5,255.55 160.0,255.72 160.5,255.35 161.0,255.45 161.5,255.80 162.0,255.55 162.5,255.79 163.0,256.14 163.5,255.86 164.0,255.79 164.5,255.84 165.0,255.35 165.5,254.97 166.0,255.17 166.5,254.95 167.0,255.09 167.5,255.34 168.0,255.58 168.5,255.42 169.0,255.79 169.5,255.93 170.0,255.95 170.5,255.94 171.0,255.83 171.5,255.44 172.0,255.38 172.5,255.28 173.0,255.24 173.5,255.14 174.0,255.17 174.5,254.70 175.0,254.57 175.5,254.67 176.0,254.96 176.5,254.89 177.0,254.91 177.5,254.87 178.0,254.97 178.5,254.78 179.0,254.47 179.5,254.70 180.0,254.64 180.5,254.84 181.0,254.65 181.5,254.80 182.0,254.46 182.5,254.43 183.0,253.74 183.5,253.54 184.0,253.22 184.5,253.23 185.0,253.07 185.5,253.06 186.0,253.63 186.5,254.06 187.0,254.27 187.5,254.28 188.0,254.45 188.5,254.11 189.0,253.98 189.5,253.97 190.0,254.19 190.5,254.25 191.0,254.36 191.5,254.22 192.0,254.05 192.5,254.08 193.0,254.04 193.5,253.96 194.0,254.32 194.5,254.36 195.0,254.27 195.5,254.54 196.0,254.67 196.5,254.91 197.0,255.21 197.5,255.51 198.0,255.61 198.5,255.38 199.0,255.20 199.5,254.96 200.0,254.81 200.5,254.66 201.0,255.25 201.5,255.30 202.0,255.80 202.5,255.83 203.0,255.87 203.5,255.71 204.0,255.90 204.5,255.65 205.0,255.66 205.5,255.64 206.0,255.42 206.5,255.49 207.0,255.64 207.5,255.83 208.0,255.96 208.5,256.16 209.0,256.05 209.5,256.52 210.0,257.52 210.5,258.71 211.0,257.69 211.5,255.26 212.0,252.47 212.5,250.69 213.0,251.58 213.5,253.57 214.0,254.65 214.5,255.30 215.0,255.60 215.5,255.95 216.0,255.77 216.5,255.93 217.0,255.88 217.5,255.73 218.0,255.41 218.5,255.48 219.0,255.60 219.5,255.58 220.0,255.59 220.5,255.64 221.0,255.68 221.5,255.66 222.0,255.57 222.5,255.73 223.0,255.64 223.5,255.70 224.0,255.44 224.5,255.47 225.0,255.30 225.5,255.45 226.0,255.18 226.5,255.37 227.0,255.56 227.5,255.69 228.0,255.74 228.5,256.03 229.0,255.89 229.5,255.87 230.0,255.85 230.5,255.48 231.0,255.41 231.5,255.40 232.0,255.29 232.5,255.23 233.0,255.56 233.5,255.56 234.0,255.75 234.5,255.76 235.0,255.94 235.5,255.99 236.0,255.88 236.5,255.80 237.0,256.04 237.5,256.00 238.0,256.05 238.5,256.14 239.0,256.32 239.5,256.56 240.0,256.57 240.5,256.24 241.0,256.52 241.5,256.33 242.0,255.91 242.5,255.73 243.0,256.42 243.5,256.55 244.0,256.57 244.5,256.35 245.0,256.68 245.5,256.46 246.0,256.13 246.5,255.94 247.0,256.01 247.5,255.78 248.0,255.85 248.5,255.59 249.0,255.82 249.5,255.69 250.0,255.78 250.5,255.59 251.0,255.96 251.5,255.68 252.0,255.52 252.5,255.48 253.0,255.70 253.5,255.50 254.0,255.20 254.5,255.34 255.0,255.15 255.5,255.07 256.0,255.24 256.5,255.82 257.0,256.02 257.5,256.11 258.0,256.12 258.5,255.67 259.0,255.28 259.5,255.03 260.0,255.05 260.5,255.08 261.0,255.56 261.5,255.85 262.0,255.88 262.5,255.95 263.0,255.88 263.5,255.84 264.0,255.75 264.5,255.81 265.0,255.80 265.5,255.81 266.0,255.97 266.5,255.90 267.0,255.99 267.5,256.36 268.0,256.46 268.5,256.38 269.0,256.56 269.5,256.36 270.0,256.06 270.5,256.08 271.0,256.06 271.5,256.05 272.0,256.32 272.5,256.40 273.0,256.18 273.5,256.17 274.0,255.93 274.5,256.00 275.0,255.83 275.5,255.72 276.0,255.66 276.5,255.59 277.0,255.54 277.5,255.45 278.0,255.31 278.5,255.22 279.0,255.52 279.5,255.40 280.0,255.33 280.5,255.74 281.0,255.86 281.5,255.88 282.0,255.91 282.5,255.99 283.0,255.68 283.5,255.52 284.0,255.21 284.5,254.92 285.0,254.77 285.5,254.55 286.0,254.45 286.5,254.30 287.0,254.32 287.5,254.27 288.0,254.51 288.5,254.61 289.0,254.89 289.5,254.94 290.0,255.16 290.5,255.21 291.0,255.35 291.5,255.32 292.0,255.25 292.5,255.44 293.0,255.46 293.5,255.45 294.0,255.27 294.5,255.22 295.0,255.16 295.5,255.09 296.0,254.77 296.5,254.95 297.0,254.99 297.5,254.86 298.0,255.37 298.5,255.64 299.0,255.73 299.5,256.07 300.0,256.14 300.5,255.84 301.0,256.14 301.5,256.07 302.0,256.04 302.5,256.02 303.0,255.85 303.5,255.66 304.0,255.69 304.5,255.73 305.0,255.82 305.5,256.27 306.0,255.92 306.5,255.83 307.0,255.66 307.5,255.42 308.0,255.24 308.5,255.52 309.0,255.63 309.5,255.45 310.0,255.43 310.5,255.36 311.0,255.30 311.5,255.19 312.0,255.42 312.5,255.52 313.0,255.37 313.5,255.69 314.0,255.68 314.5,255.79 315.0,255.92 315.5,256.23 316.0,255.87 316.5,255.81 317.0,255.76 317.5,255.68 318.0,255.12 318.5,254.74 319.0,254.70 319.5,254.36 320.0,253.76 320.5,252.91 321.0,250.78 321.5,249.63 322.0,252.19 322.5,255.82 323.0,258.40 323.5,259.54 324.0,258.67 324.5,257.32 325.0,256.39 325.5,255.90 326.0,256.13 326.5,255.87 327.0,255.85 327.5,255.75 328.0,255.63 328.5,255.44 329.0,255.66 329.5,256.01 330.0,255.97 330.5,256.21 331.0,256.10 331.5,255.93 332.0,255.68 332.5,255.80 333.0,255.51 333.5,255.78 334.0,255.87 334.5,256.02 335.0,256.08 335.5,256.32 336.0,256.16 336.5,256.18 337.0,255.84 337.5,255.57 338.0,255.20 338.5,255.06 339.0,254.82 339.5,254.94 340.0,255.08 340.5,255.15 341.0,255.34 341.5,255.59 342.0,255.75 342.5,255.72 343.0,255.96 343.5,255.91 344.0,255.99 344.5,255.60 345.0,255.65 345.5,255.25 346.0,255.57 346.5,255.56 347.0,255.47 347.5,255.35 348.0,255.48 348.5,254.93 349.0,254.72 349.5,254.89 350.0,255.12 350.5,255.24 351.0,255.32 351.5,255.35 352.0,255.51 352.5,255.44 353.0,255.55 353.5,255.43 354.0,255.23 354.5,255.03 355.0,254.63 355.5,254.44 356.0,254.27 356.5,253.88 357.0,252.64 357.5,250.24 358.0,245.54 358.5,240.49 359.0,237.64 359.5,240.95 360.0,246.76 360.5,252.14 361.0,255.14 361.5,257.65 362.0,259.60 362.5,260.86 363.0,260.83 363.5,260.58 364.0,259.79 364.5,259.04 365.0,258.57 365.5,258.32 366.0,258.05 366.5,257.81 367.0,257.49 367.5,257.63 368.0,257.56 368.5,257.42 369.0,257.64 369.5,257.82 370.0,257.44 370.5,257.51 371.0,257.41 371.5,257.43 372.0,257.42 372.5,257.55 373.0,257.69 373.5,257.59 374.0,257.26 374.5,257.43 375.0,257.65 375.5,257.54 376.0,257.66 376.5,258.07 377.0,258.02 377.5,257.98 378.0,257.67 378.5,257.75 379.0,257.39 379.5,257.13 380.0,257.05 380.5,257.43 381.0,257.37 381.5,257.48 382.0,257.85 382.5,257.85 383.0,257.71 383.5,257.85 384.0,257.90 384.5,257.48 385.0,257.29 385.5,257.34 386.0,257.35 386.5,257.13 387.0,257.19 387.5,257.17 388.0,256.88 388.5,256.95 389.0,257.19 389.5,257.51 390.0,257.25 390.5,257.35 391.0,257.45 391.5,257.15 392.0,256.66 392.5,257.02 393.0,257.37 393.5,257.18 394.0,257.24 394.5,257.59 395.0,257.61 395.5,257.40 396.0,257.35 396.5,257.61 397.0,257.70 397.5,257.83 398.0,257.95 398.5,257.85 399.0,257.43 399.5,257.32 400.0,256.87 400.5,257.05 401.0,256.89 401.5,256.88 402.0,256.51 402.5,256.79 403.0,256.48 403.5,256.75 404.0,257.07 404.5,257.23 405.0,257.29 405.5,257.13 406.0,256.79 406.5,256.88 407.0,257.07 407.5,256.80 408.0,256.86 408.5,257.24 409.0,257.24 409.5,256.98 410.0,257.29 410.5,256.93 411.0,256.77 411.5,256.68 412.0,256.82 412.5,256.66 413.0,256.80 413.5,256.76 414.0,256.77 414.5,256.64 415.0,256.64 415.5,256.85 416.0,256.52 416.5,256.34 417.0,256.57 417.5,256.30 418.0,256.32 418.5,256.71 419.0,256.60 419.5,256.46 420.0,256.83 420.5,256.93 421.0,256.72 421.5,257.06 422.0,257.15 422.5,257.02 423.0,257.13 423.5,257.39 424.0,257.28 424.5,257.36 425.0,257.43 425.5,257.39 426.0,257.24 426.5,256.90 427.0,256.97 427.5,256.98 428.0,256.84 428.5,256.84 429.0,257.08 429.5,256.82 430.0,256.51 430.5,256.50 431.0,256.45 431.5,256.21 432.0,256.08 432.5,255.90 433.0,255.16 433.5,253.54 434.0,250.34 434.5,246.78 435.0,249.91 435.5,253.16 436.0,253.73 436.5,253.35 437.0,254.52 437.5,255.63 438.0,256.19 438.5,256.22 439.0,256.32 439.5,256.28 440.0,256.48 440.5,256.71 441.0,256.83 441.5,256.66 442.0,256.84 442.5,257.04 443.0,256.91 443.5,256.78 444.0,256.99 444.5,257.19 445.0,256.62 445.5,256.17 446.0,256.85 446.5,256.71 447.0,256.22 447.5,256.70 448.0,257.35 448.5,256.58 449.0,256.77 449.5,257.21 450.0,257.05 450.5,256.73 451.0,257.16 451.5,256.84 452.0,256.76 452.5,256.72 453.0,256.77 453.5,256.79 454.0,257.07 454.5,257.19 455.0,257.30 455.5,257.63 456.0,257.35 456.5,257.21 457.0,257.10 457.5,257.22 458.0,256.61 458.5,256.73 459.0,256.67 459.5,256.66 460.0,256.82 460.5,257.20 461.0,257.25 461.5,257.35 462.0,257.46 462.5,257.13 463.0,257.40 463.5,257.26 464.0,257.42 464.5,257.41 465.0,257.60 465.5,257.59 466.0,257.72 466.5,257.54 467.0,257.39 467.5,257.01 468.0,256.45 468.5,256.03 469.0,254.64 469.5,250.13 470.0,241.18 470.5,230.74 471.0,231.74 471.5,240.72 472.0,247.08 472.5,249.16 473.0,248.93 473.5,248.08 474.0,248.53 474.5,249.83 475.0,251.25 475.5,252.33 476.0,253.50 476.5,253.80 477.0,253.70 477.5,254.06 478.0,254.42 478.5,254.57 479.0,254.89 479.5,255.09 480.0,254.97 480.5,254.90 481.0,254.95 481.5,254.75 482.0,254.50 482.5,254.36 483.0,254.57 483.5,254.34 484.0,254.20 484.5,254.95 485.0,254.95 485.5,254.79 486.0,254.98 486.5,255.40 487.0,254.94 487.5,254.86 488.0,254.97 488.5,254.74 489.0,254.66 489.5,254.81 490.0,255.00 490.5,254.65 491.0,254.71 491.5,254.84 492.0,254.84 492.5,254.70 493.0,254.99 493.5,255.13 494.0,255.21 494.5,255.16 495.0,255.40 495.5,255.34 496.0,255.38 496.5,255.33 497.0,255.25 497.5,255.18 498.0,255.51 498.5,255.43 499.0,255.19 499.5,255.32 500.0,255.18 500.5,254.74 501.0,254.89 501.5,255.02 502.0,255.04 502.5,255.36 503.0,255.41 503.5,255.35 504.0,255.29 504.5,255.20 505.0,255.13 505.5,255.23 506.0,254.96 506.5,255.06 507.0,255.04 507.5,255.08 508.0,254.93 508.5,255.17 509.0,255.09 509.5,255.02 510.0,254.90 510.5,255.03 511.0,254.79 511.5,254.74 512.0,254.73 512.5,254.85 513.0,254.86 513.5,255.30 514.0,255.48 514.5,255.60 515.0,255.56 515.5,255.36 516.0,255.20 516.5,255.31 517.0,255.10 517.5,255.27 518.0,255.59 518.5,255.58 519.0,255.32 519.5,255.48 520.0,255.15 520.5,255.06 521.0,255.02 521.5,255.10 522.0,254.91 522.5,255.17 523.0,255.07 523.5,255.12 524.0,255.20 524.5,255.36 525.0,255.59 525.5,255.71 526.0,255.71 526.5,255.58 527.0,255.66 527.5,255.09 528.0,255.16 528.5,255.04 529.0,254.99 529.5,255.06 530.0,255.39 530.5,255.23 531.0,255.14 531.5,254.92 532.0,254.66 532.5,254.60 533.0,254.77 533.5,254.74 534.0,255.06 534.5,255.37 535.0,255.18 535.5,254.99 536.0,255.03 536.5,255.07 537.0,254.60 537.5,254.67 538.0,254.78 538.5,254.85 539.0,254.84 539.5,255.06 540.0,254.70 540.5,253.90 541.0,252.73 541.5,251.02 542.0,248.58 542.5,245.79 543.0,242.87 543.5,241.16 544.0,240.99 544.5,242.84 545.0,245.45 545.5,248.90 546.0,251.28 546.5,252.71 547.0,253.82 547.5,254.57 548.0,254.36 548.5,254.26 549.0,254.56 549.5,254.47 550.0,254.49 550.5,254.49 551.0,254.30 551.5,253.98 552.0,253.39 552.5,252.46 553.0,251.17 553.5,249.44 554.0,246.31 554.5,242.66 555.0,238.10 555.5,233.41 556.0,228.68 556.5,224.57 557.0,220.19 557.5,214.90 558.0,207.48 558.5,198.23 559.0,188.41 559.5,181.12 560.0,177.40 560.5,175.71 561.0,173.61 561.5,170.38 562.0,165.96 562.5,162.01 563.0,158.90 563.5,157.54 564.0,157.98 564.5,160.54 565.0,165.23 565.5,171.11 566.0,178.27 566.5,186.40 567.0,194.92 567.5,202.53 568.0,210.08 568.5,216.14 569.0,221.40 569.5,225.72 570.0,229.64 570.5,232.46 571.0,233.90 571.5,234.08 572.0,233.68 572.5,233.68 573.0,233.95 573.5,235.03 574.0,236.93 574.5,238.55 575.0,239.54 575.5,239.78 576.0,239.56 576.5,238.01 577.0,236.92 577.5,236.18 578.0,236.08 578.5,236.75 579.0,238.07 579.5,238.92 580.0,239.30 580.5,239.99 581.0,239.83 581.5,239.17 582.0,238.63 582.5,238.32 583.0,237.32 583.5,236.20 584.0,235.59 584.5,235.74 585.0,236.49 585.5,237.87 586.0,240.00 586.5,242.19 587.0,244.08 587.5,245.62 588.0,246.57 588.5,247.18 589.0,247.50 589.5,247.10 590.0,246.74 590.5,246.18 591.0,245.46 591.5,245.07 592.0,244.29 592.5,242.99 593.0,241.43 593.5,238.91 594.0,235.17 594.5,231.78 595.0,229.35 595.5,228.67 596.0,230.26 596.5,233.73 597.0,238.10 597.5,242.32 598.0,245.65 598.5,248.14 599.0,249.67 599.5,250.83 600.0,251.07 600.5,251.03 601.0,251.16 601.5,251.19 602.0,250.93 602.5,251.06 603.0,251.08 603.5,250.82 604.0,250.60 604.5,250.68 605.0,250.54 605.5,250.66 606.0,250.67 606.5,250.92 607.0,250.63 607.5,250.76 608.0,250.76 608.5,250.64 609.0,250.54 609.5,250.72 610.0,250.10 610.5,248.52 611.0,244.37 611.5,236.75 612.0,225.87 612.5,213.28 613.0,203.12 613.5,200.05 614.0,204.98 614.5,215.69 615.0,228.53 615.5,239.29 616.0,246.37 616.5,250.38 617.0,252.01 617.5,252.61 618.0,253.09 618.5,253.40 619.0,253.37 619.5,253.44 620.0,253.50 620.5,253.31 621.0,253.48 621.5,253.82 622.0,254.15 622.5,254.42 623.0,254.63 623.5,254.63 624.0,254.59 624.5,254.60 625.0,254.53 625.5,254.49 626.0,254.55 626.5,254.64 627.0,254.51 627.5,254.58 628.0,254.78 628.5,254.84 629.0,254.56 629.5,254.55 630.0,254.40 630.5,254.25 631.0,254.03 631.5,254.44 632.0,254.50 632.5,255.06 633.0,255.31 633.5,255.60 634.0,255.48 634.5,255.80 635.0,255.56 635.5,255.65 636.0,255.65 636.5,255.77 637.0,255.71 637.5,255.83 638.0,255.73 638.5,255.57 639.0,255.73 639.5,255.61 640.0,255.52 640.5,255.85 641.0,255.84 641.5,255.57 642.0,255.55 642.5,255.35 643.0,255.14 643.5,255.22 644.0,255.28 644.5,255.14 645.0,255.36 645.5,255.16 646.0,254.90 646.5,254.78 647.0,254.80 647.5,254.97 648.0,254.83 648.5,255.17 649.0,255.12 649.5,255.24 650.0,254.81 650.5,255.25 651.0,255.04 651.5,255.10 652.0,255.26 652.5,255.39 653.0,255.31 653.5,255.36 654.0,255.20 654.5,255.22 655.0,255.43 655.5,255.38 656.0,255.33 656.5,255.70 657.0,255.68 657.5,255.33 658.0,255.12 658.5,254.88 659.0,254.06 659.5,253.00 660.0,251.87 660.5,250.92 661.0,251.36 661.5,252.26 662.0,253.23 662.5,253.97 663.0,254.31 663.5,254.62 664.0,255.11 664.5,255.33 665.0,255.34 665.5,255.71 666.0,255.76 666.5,255.83 667.0,255.66 667.5,255.72 668.0,255.38 668.5,255.50 669.0,255.40 669.5,255.49 670.0,255.42 670.5,255.44 671.0,255.33 671.5,255.50 672.0,255.49 672.5,255.44 673.0,255.87 673.5,255.98 674.0,256.01 674.5,256.16 675.0,256.47 675.5,256.14 676.0,255.93 676.5,255.83 677.0,255.63 677.5,255.27 678.0,255.61 678.5,255.68 679.0,255.57 679.5,255.69 680.0,255.75 680.5,255.41 681.0,255.38 681.5,255.30 682.0,255.06 682.5,255.11 683.0,255.14 683.5,254.97 684.0,255.18"/>
<polyline fill="none" stroke="#7f7f7f" stroke-width="1.8" stroke-linejoin="round" points="10.5,210.78 11.0,210.72 11.5,210.82 12.0,210.99 12.5,210.83 13.0,210.99 13.5,211.20 14.0,210.90 14.5,210.97 15.0,210.82 15.5,210.65 16.0,210.41 16.5,210.20 17.0,209.87 17.5,209.77 18.0,209.79 18.5,209.83 19.0,209.99 19.5,210.24 20.0,210.28 20.5,210.31 21.0,210.37 21.5,210.54 22.0,210.40 22.5,210.54 23.0,210.24 23.5,210.13 24.0,209.66 24.5,209.57 25.0,209.81 25.5,209.78 26.0,209.98 26.5,210.38 27.0,210.55 27.5,210.45 28.0,210.88 28.5,210.92 29.0,210.83 29.5,210.79 30.0,210.62 30.5,210.38 31.0,210.21 31.5,210.13 32.0,210.39 32.5,210.19 33.0,210.17 33.5,210.03 34.0,209.82 34.5,209.95 35.0,209.87 35.5,210.00 36.0,210.06 36.5,210.65 37.0,210.04 37.5,210.59 38.0,210.52 38.5,210.57 39.0,210.21 39.5,210.62 40.0,210.27 40.5,210.38 41.0,210.46 41.5,210.85 42.0,210.37 42.5,210.79 43.0,210.95 43.5,210.82 44.0,210.58 44.5,210.88 45.0,210.90 45.5,210.79 46.0,210.83 46.5,210.74 47.0,210.79 47.5,210.50 48.0,210.33 48.5,210.69 49.0,210.42 49.5,209.89 50.0,209.90 50.5,210.01 51.0,209.75 51.5,210.02 52.0,210.56 52.5,210.63 53.0,210.80 53.5,210.67 54.0,210.65 54.5,210.97 55.0,211.01 55.5,210.70 56.0,211.13 56.5,211.31 57.0,210.92 57.5,210.65 58.0,210.85 58.5,210.36 59.0,210.07 59.5,209.96 60.0,210.06 60.5,210.19 61.0,210.25 61.5,210.19 62.0,210.50 62.5,210.59 63.0,210.55 63.5,210.80 64.0,211.00 64.5,210.88 65.0,210.86 65.5,210.55 66.0,210.47 66.5,210.71 67.0,210.76 67.5,210.73 68.0,210.86 68.5,210.64 69.0,210.30 69.5,210.21 70.0,210.11 70.5,210.08 71.0,209.96 71.5,210.14 72.0,210.21 72.5,210.16 73.0,209.87 73.5,210.12 74.0,210.23 74.5,210.11 75.0,210.22 75.5,210.49 76.0,210.59 76.5,210.27 77.0,210.54 77.5,210.57 78.0,210.80 78.5,210.71 79.0,210.81 79.5,210.43 80.0,210.37 80.5,210.18 81.0,210.28 81.5,210.35 82.0,210.48 82.5,210.65 83.0,210.84 83.5,210.72 84.0,210.61 84.5,210.66 85.0,210.72 85.5,210.65 86.0,210.53 86.5,210.65 87.0,210.64 87.5,210.40 88.0,210.51 88.5,210.78 89.0,210.61 89.5,210.69 90.0,210.89 90.5,210.60 91.0,210.45 91.5,210.67 92.0,210.37 92.5,210.35 93.0,210.56 93.5,210.66 94.0,210.34 94.5,210.67 95.0,210.49 95.5,210.46 96.0,210.48 96.5,210.72 97.0,210.55 97.5,210.59 98.0,210.64 98.5,210.40 99.0,210.44 99.5,210.64 100.0,210.69 100.5,210.93 101.0,211.08 101.5,211.34 102.0,210.95 102.5,210.64 103.0,210.42 103.5,210.50 104.0,210.12 104.5,210.43 105.0,210.48 105.5,210.23 106.0,209.96 106.5,209.98 107.0,210.12 107.5,210.43 108.0,210.58 108.5,210.64 109.0,210.60 109.5,210.48 110.0,210.43 110.5,210.56 111.0,210.53 111.5,210.90 112.0,210.72 112.5,210.93 113.0,210.61 113.5,211.00 114.0,210.73 114.5,210.94 115.0,210.89 115.5,210.91 116.0,210.48 116.5,210.14 117.0,210.26 117.5,210.03 118.0,210.03 118.5,210.18 119.0,210.80 119.5,210.33 120.0,210.47 120.5,210.49 121.0,210.56 121.5,209.96 122.0,210.14 122.5,210.21 123.0,210.49 123.5,210.62 124.0,210.72 124.5,210.73 125.0,210.50 125.5,209.92 126.0,209.22 126.5,208.99 127.0,207.87 127.5,205.35 128.0,201.22 128.5,194.92 129.0,188.56 129.5,185.69 130.0,188.53 130.5,194.75 131.0,201.30 131.5,205.80 132.0,208.35 132.5,209.82 133.0,210.17 133.5,210.52 134.0,210.70 134.5,210.68 135.0,210.56 135.5,210.52 136.0,210.58 136.5,210.39 137.0,210.39 137.5,210.34 138.0,210.62 138.5,210.60 139.0,210.87 139.5,210.93 140.0,210.74 140.5,210.70 141.0,210.61 141.5,210.33 142.0,210.52 142.5,210.71 143.0,210.47 143.5,210.50 144.0,210.44 144.5,210.16 145.0,210.19 145.5,210.10 146.0,210.04 146.5,210.04 147.0,210.29 147.5,210.12 148.0,210.39 148.5,210.15 149.0,210.31 149.5,210.34 150.0,210.53 150.5,210.21 151.0,210.59 151.5,210.79 152.0,210.58 152.5,210.73 153.0,210.85 153.5,210.69 154.0,210.73 154.5,210.99 155.0,210.96 155.5,210.96 156.0,210.69 156.5,210.57 157.0,210.14 157.5,209.92 158.0,209.88 158.5,210.32 159.0,210.38 159.5,210.69 160.0,210.71 160.5,210.91 161.0,210.69 161.5,210.61 162.0,210.55 162.5,210.61 163.0,210.52 163.5,210.85 164.0,210.82 164.5,210.99 165.0,211.11 165.5,211.02 166.0,210.44 166.5,210.57 167.0,210.26 167.5,210.04 168.0,210.11 168.5,210.37 169.0,209.96 169.5,209.97 170.0,209.85 170.5,209.86 171.0,209.44 171.5,209.71 172.0,209.74 172.5,209.50 173.0,209.35 173.5,209.68 174.0,209.61 174.5,209.51 175.0,209.95 175.5,210.03 176.0,209.82 176.5,209.57 177.0,209.64 177.5,209.29 178.0,209.37 178.5,209.65 179.0,209.81 179.5,209.81 180.0,209.84 180.5,209.67 181.0,209.39 181.5,209.17 182.0,208.73 182.5,208.65 183.0,208.46 183.5,208.31 184.0,208.41 184.5,208.72 185.0,208.74 185.5,209.12 186.0,209.49 186.5,209.63 187.0,209.47 187.5,209.30 188.0,209.18 188.5,209.10 189.0,209.07 189.5,209.25 190.0,209.70 190.5,209.60 191.0,209.69 191.5,209.47 192.0,209.07 192.5,208.84 193.0,209.16 193.5,208.84 194.0,209.18 194.5,209.47 195.0,209.52 195.5,209.34 196.0,209.68 196.5,209.41 197.0,209.58 197.5,209.75 198.0,209.92 198.5,209.81 199.0,210.25 199.5,210.56 200.0,210.91 200.5,210.61 201.0,210.79 201.5,210.28 202.0,210.08 202.5,209.81 203.0,209.87 203.5,209.62 204.0,209.96 204.5,210.02 205.0,209.82 205.5,209.97 206.0,209.83 206.5,209.70 207.0,209.62 207.5,209.75 208.0,210.01 208.5,210.17 209.0,209.84 209.5,209.72 210.0,209.34 210.5,208.75 211.0,208.53 211.5,208.48 212.0,208.41 212.5,208.95 213.0,209.16 213.5,209.56 214.0,210.18 214.5,210.17 215.0,210.29 215.5,210.66 216.0,210.67 216.5,210.65 217.0,210.91 217.5,210.75 218.0,210.92 218.5,210.80 219.0,210.45 219.5,210.44 220.0,210.49 220.5,210.19 221.0,210.47 221.5,210.64 222.0,210.70 222.5,210.85 223.0,210.98 223.5,210.83 224.0,210.76 224.5,210.53 225.0,210.61 225.5,210.90 226.0,211.19 226.5,211.27 227.0,211.27 227.5,211.18 228.0,210.88 228.5,210.70 229.0,210.38 229.5,210.35 230.0,210.44 230.5,210.33 231.0,210.06 231.5,210.29 232.0,210.62 232.5,210.62 233.0,210.72 233.5,210.87 234.0,210.88 234.5,210.46 235.0,210.24 235.5,210.24 236.0,210.07 236.5,209.98 237.0,210.07 237.5,209.90 238.0,209.73 238.5,210.04 239.0,210.32 239.5,210.15 240.0,209.98 240.5,209.93 241.0,209.44 241.5,208.89 242.0,209.29 242.5,209.49 243.0,209.61 243.5,209.78 244.0,209.93 244.5,209.78 245.0,210.10 245.5,210.48 246.0,210.71 246.5,210.88 247.0,210.73 247.5,210.64 248.0,210.28 248.5,210.17 249.0,210.32 249.5,210.55 250.0,210.53 250.5,210.56 251.0,210.58 251.5,210.44 252.0,210.27 252.5,210.22 253.0,210.48 253.5,210.23 254.0,210.14 254.5,210.10 255.0,210.42 255.5,210.38 256.0,210.72 256.5,210.85 257.0,211.08 257.5,210.88 258.0,210.54 258.5,210.50 259.0,210.53 259.5,210.26 260.0,210.34 260.5,210.70 261.0,210.42 261.5,210.25 262.0,210.42 262.5,210.21 263.0,210.17 263.5,210.21 264.0,210.24 264.5,210.32 265.0,210.52 265.5,210.46 266.0,210.62 266.5,210.77 267.0,210.42 267.5,210.45 268.0,210.39 268.5,210.23 269.0,210.05 269.5,210.07 270.0,209.60 270.5,209.60 271.0,209.67 271.5,209.85 272.0,209.99 272.5,210.10 273.0,210.00 273.5,210.38 274.0,210.27 274.5,210.30 275.0,210.34 275.5,210.31 276.0,210.01 276.5,210.06 277.0,210.33 277.5,210.65 278.0,210.85 278.5,210.76 279.0,210.54 279.5,209.97 280.0,209.61 280.5,209.61 281.0,209.62 281.5,209.77 282.0,209.88 282.5,210.11 283.0,210.01 283.5,209.97 284.0,209.83 284.5,209.50 285.0,209.02 285.5,208.50 286.0,208.36 286.5,207.75 287.0,207.43 287.5,207.00 288.0,206.36 288.5,205.83 289.0,205.58 289.5,205.82 290.0,206.01 290.5,206.92 291.0,207.00 291.5,207.81 292.0,208.21 292.5,208.78 293.0,208.80 293.5,209.43 294.0,209.54 294.5,209.90 295.0,210.05 295.5,210.40 296.0,210.58 296.5,210.54 297.0,210.31 297.5,210.09 298.0,210.12 298.5,209.93 299.0,210.18 299.5,210.39 300.0,210.44 300.5,210.49 301.0,210.86 301.5,210.68 302.0,210.53 302.5,210.57 303.0,210.57 303.5,210.18 304.0,210.15 304.5,210.40 305.0,210.54 305.5,210.42 306.0,210.43 306.5,210.39 307.0,210.31 307.5,210.33 308.0,210.40 308.5,210.41 309.0,210.56 309.5,210.60 310.0,210.58 310.5,210.57 311.0,210.80 311.5,210.77 312.0,210.70 312.5,210.52 313.0,210.46 313.5,210.27 314.0,210.17 314.5,210.00 315.0,210.20 315.5,210.51 316.0,210.53 316.5,210.51 317.0,210.60 317.5,210.27 318.0,209.67 318.5,209.21 319.0,208.72 319.5,208.20 320.0,207.75 320.5,207.10 321.0,206.53 321.5,206.35 322.0,206.18 322.5,206.65 323.0,207.19 323.5,207.93 324.0,208.57 324.5,209.29 325.0,209.33 325.5,209.61 326.0,209.87 326.5,209.72 327.0,209.35 327.5,209.62 328.0,209.71 328.5,209.76 329.0,209.97 329.5,210.40 330.0,210.47 330.5,210.71 331.0,210.73 331.5,210.82 332.0,210.75 332.5,210.90 333.0,210.66 333.5,210.70 334.0,210.29 334.5,210.40 335.0,210.21 335.5,210.17 336.0,210.26 336.5,210.65 337.0,210.59 337.5,210.52 338.0,210.88 338.5,210.80 339.0,210.83 339.5,210.73 340.0,211.01 340.5,210.80 341.0,210.63 341.5,210.51 342.0,210.36 342.5,210.25 343.0,209.98 343.5,210.14 344.0,210.07 344.5,210.21 345.0,210.14 345.5,210.32 346.0,209.98 346.5,210.00 347.0,210.15 347.5,210.00 348.0,209.70 348.5,209.75 349.0,209.51 349.5,209.18 350.0,209.03 350.5,208.95 351.0,208.57 351.5,207.93 352.0,207.39 352.5,206.53 353.0,205.58 353.5,204.85 354.0,204.98 354.5,204.77 355.0,204.87 355.5,205.32 356.0,205.07 356.5,204.33 357.0,203.08 357.5,201.45 358.0,199.66 358.5,199.20 359.0,200.09 359.5,202.44 360.0,204.72 360.5,206.34 361.0,207.49 361.5,208.50 362.0,209.11 362.5,209.50 363.0,209.86 363.5,210.20 364.0,210.32 364.5,210.29 365.0,210.36 365.5,210.43 366.0,210.76 366.5,210.66 367.0,210.92 367.5,210.72 368.0,210.83 368.5,210.23 369.0,210.05 369.5,209.77 370.0,210.00 370.5,209.92 371.0,210.20 371.5,210.42 372.0,210.46 372.5,210.90 373.0,210.94 373.5,210.99 374.0,211.28 374.5,211.50 375.0,211.20 375.5,211.19 376.0,211.38 376.5,210.91 377.0,210.61 377.5,210.55 378.0,210.19 378.5,209.78 379.0,210.12 379.5,210.20 380.0,210.21 380.5,210.64 381.0,210.58 381.5,210.45 382.0,210.42 382.5,210.23 383.0,210.08 383.5,210.26 384.0,210.16 384.5,210.15 385.0,210.47 385.5,210.69 386.0,210.79 386.5,210.84 387.0,210.78 387.5,210.50 388.0,210.16 388.5,210.10 389.0,210.26 389.5,210.57 390.0,210.69 390.5,210.80 391.0,210.80 391.5,210.68 392.0,210.63 392.5,210.86 393.0,210.82 393.5,211.11 394.0,210.77 394.5,210.40 395.0,209.94 395.5,209.89 396.0,209.53 396.5,210.17 397.0,210.34 397.5,210.75 398.0,210.85 398.5,210.91 399.0,210.43 399.5,210.89 400.0,210.72 400.5,210.68 401.0,211.01 401.5,211.19 402.0,210.91 402.5,210.89 403.0,210.86 403.5,210.28 404.0,210.23 404.5,210.41 405.0,210.50 405.5,210.60 406.0,210.99 406.5,210.87 407.0,210.83 407.5,210.77 408.0,210.66 408.5,210.60 409.0,210.83 409.5,210.56 410.0,210.60 410.5,210.88 411.0,210.99 411.5,210.78 412.0,210.42 412.5,210.71 413.0,210.52 413.5,210.23 414.0,210.43 414.5,210.77 415.0,210.61 415.5,210.46 416.0,210.49 416.5,210.23 417.0,210.53 417.5,210.33 418.0,210.70 418.5,210.94 419.0,210.95 419.5,210.68 420.0,210.83 420.5,210.66 421.0,210.43 421.5,210.74 422.0,210.91 422.5,210.71 423.0,210.68 423.5,210.79 424.0,210.69 424.5,210.57 425.0,210.48 425.5,210.77 426.0,210.63 426.5,210.63 427.0,210.59 427.5,210.76 428.0,210.49 428.5,210.38 429.0,210.37 429.5,210.53 430.0,210.53 430.5,210.54 431.0,210.63 431.5,210.35 432.0,210.00 432.5,208.94 433.0,207.46 433.5,206.14 434.0,206.38 434.5,207.46 435.0,208.73 435.5,209.69 436.0,209.77 436.5,209.92 437.0,210.27 437.5,210.52 438.0,210.05 438.5,209.94 439.0,209.95 439.5,209.76 440.0,209.72 440.5,210.02 441.0,210.35 441.5,210.16 442.0,210.03 442.5,210.22 443.0,210.11 443.5,209.91 444.0,209.81 444.5,210.15 445.0,209.81 445.5,209.75 446.0,210.03 446.5,210.39 447.0,210.39 447.5,210.39 448.0,210.10 448.5,209.85 449.0,209.76 449.5,209.57 450.0,209.90 450.5,210.40 451.0,210.39 451.5,210.52 452.0,210.60 452.5,210.38 453.0,210.50 453.5,210.39 454.0,210.46 454.5,210.65 455.0,210.40 455.5,210.19 456.0,210.42 456.5,210.08 457.0,209.81 457.5,209.99 458.0,210.02 458.5,209.95 459.0,209.78 459.5,210.04 460.0,210.30 460.5,210.14 461.0,210.34 461.5,210.97 462.0,210.51 462.5,210.27 463.0,210.28 463.5,210.19 464.0,209.77 464.5,209.72 465.0,209.88 465.5,209.78 466.0,209.64 466.5,209.79 467.0,209.49 467.5,208.50 468.0,207.25 468.5,204.54 469.0,200.64 469.5,198.47 470.0,200.78 470.5,203.88 471.0,206.06 471.5,207.00 472.0,207.41 472.5,206.85 473.0,206.83 473.5,207.09 474.0,207.18 474.5,207.47 475.0,208.09 475.5,208.41 476.0,209.01 476.5,209.59 477.0,209.88 477.5,209.97 478.0,210.22 478.5,209.91 479.0,209.89 479.5,209.95 480.0,210.53 480.5,210.78 481.0,211.13 481.5,211.40 482.0,211.83 482.5,211.36 483.0,210.97 483.5,210.75 484.0,210.59 484.5,210.17 485.0,210.19 485.5,210.51 486.0,210.76 486.5,210.76 487.0,210.73 487.5,211.02 488.0,210.87 488.5,210.55 489.0,210.57 489.5,210.25 490.0,210.37 490.5,210.40 491.0,210.54 491.5,210.54 492.0,210.97 492.5,210.47 493.0,210.76 493.5,210.78 494.0,210.77 494.5,211.21 495.0,211.22 495.5,211.06 496.0,210.95 496.5,210.67 497.0,210.49 497.5,210.44 498.0,210.35 498.5,210.35 499.0,210.62 499.5,210.17 500.0,210.63 500.5,210.64 501.0,210.46 501.5,210.24 502.0,210.43 502.5,210.03 503.0,210.06 503.5,210.31 504.0,210.41 504.5,210.07 505.0,210.05 505.5,210.03 506.0,209.90 506.5,210.28 507.0,210.52 507.5,210.78 508.0,210.83 508.5,210.92 509.0,210.68 509.5,210.91 510.0,210.83 510.5,210.77 511.0,210.70 511.5,210.97 512.0,210.83 512.5,210.99 513.0,210.47 513.5,210.45 514.0,209.95 514.5,209.93 515.0,209.73 515.5,210.03 516.0,210.06 516.5,210.37 517.0,210.53 517.5,210.51 518.0,210.84 518.5,210.78 519.0,210.75 519.5,210.45 520.0,210.69 520.5,210.89 521.0,210.94 521.5,211.03 522.0,210.93 522.5,210.67 523.0,210.72 523.5,210.75 524.0,210.64 524.5,210.60 525.0,210.70 525.5,210.15 526.0,210.35 526.5,210.18 527.0,210.83 527.5,210.66 528.0,210.83 528.5,210.32 529.0,210.33 529.5,210.12 530.0,210.27 530.5,210.01 531.0,210.39 531.5,210.59 532.0,210.46 532.5,210.62 533.0,210.59 533.5,210.78 534.0,210.73 534.5,210.31 535.0,210.43 535.5,210.55 536.0,210.30 536.5,209.81 537.0,209.94 537.5,209.21 538.0,209.17 538.5,208.70 539.0,208.34 539.5,207.65 540.0,207.16 540.5,205.73 541.0,204.47 541.5,202.92 542.0,201.20 542.5,199.59 543.0,198.62 543.5,198.00 544.0,198.35 544.5,199.13 545.0,200.20 545.5,201.70 546.0,203.20 546.5,204.48 547.0,205.86 547.5,206.62 548.0,207.19 548.5,207.35 549.0,207.50 549.5,207.49 550.0,207.15 550.5,206.60 551.0,205.62 551.5,204.13 552.0,202.09 552.5,200.47 553.0,198.27 553.5,196.20 554.0,194.30 554.5,191.83 555.0,188.47 555.5,184.32 556.0,179.06 556.5,172.64 557.0,165.41 557.5,157.33 558.0,148.86 558.5,140.59 559.0,132.19 559.5,124.46 560.0,117.89 560.5,112.27 561.0,108.33 561.5,106.12 562.0,105.68 562.5,106.96 563.0,110.28 563.5,115.01 564.0,120.61 564.5,126.95 565.0,133.33 565.5,139.64 566.0,145.64 566.5,153.20 567.0,161.07 567.5,168.42 568.0,174.82 568.5,180.41 569.0,183.62 569.5,185.64 570.0,187.02 570.5,187.05 571.0,186.54 571.5,186.47 572.0,186.44 572.5,186.41 573.0,186.99 573.5,187.96 574.0,188.60 574.5,188.96 575.0,189.43 575.5,190.01 576.0,190.19 576.5,190.21 577.0,190.84 577.5,191.18 578.0,191.61 578.5,192.50 579.0,193.63 579.5,194.35 580.0,195.24 580.5,195.72 581.0,196.01 581.5,195.95 582.0,195.56 582.5,194.52 583.0,193.39 583.5,191.98 584.0,190.58 584.5,190.03 585.0,189.85 585.5,190.39 586.0,191.31 586.5,192.81 587.0,194.21 587.5,196.11 588.0,197.90 588.5,199.23 589.0,200.68 589.5,201.41 590.0,201.65 590.5,201.55 591.0,201.15 591.5,200.34 592.0,199.54 592.5,198.67 593.0,197.27 593.5,195.70 594.0,194.49 594.5,193.34 595.0,192.61 595.5,192.70 596.0,193.97 596.5,195.24 597.0,196.91 597.5,198.50 598.0,200.28 598.5,201.37 599.0,202.43 599.5,203.23 600.0,204.15 600.5,204.42 601.0,204.93 601.5,205.27 602.0,205.49 602.5,205.51 603.0,205.64 603.5,205.92 604.0,206.21 604.5,206.06 605.0,206.08 605.5,205.80 606.0,205.21 606.5,204.61 607.0,204.58 607.5,204.47 608.0,204.34 608.5,204.18 609.0,203.90 609.5,203.06 610.0,201.89 610.5,199.85 611.0,196.60 611.5,192.36 612.0,186.95 612.5,182.06 613.0,181.20 613.5,183.74 614.0,188.42 614.5,193.91 615.0,198.38 615.5,201.21 616.0,203.44 616.5,205.18 617.0,206.43 617.5,207.44 618.0,207.86 618.5,208.17 619.0,208.26 619.5,208.22 620.0,208.38 620.5,208.44 621.0,208.74 621.5,208.96 622.0,209.30 622.5,209.34 623.0,209.48 623.5,209.58 624.0,209.93 624.5,210.06 625.0,209.97 625.5,210.50 626.0,210.63 626.5,210.35 627.0,210.10 627.5,210.49 628.0,210.24 628.5,210.27 629.0,210.15 629.5,210.10 630.0,209.91 630.5,209.91 631.0,210.18 631.5,210.19 632.0,210.35 632.5,210.49 633.0,210.63 633.5,210.29 634.0,210.67 634.5,210.81 635.0,210.80 635.5,210.74 636.0,211.00 636.5,210.72 637.0,210.62 637.5,210.65 638.0,210.67 638.5,210.58 639.0,210.83 639.5,210.90 640.0,210.80 640.5,210.40 641.0,210.27 641.5,210.22 642.0,210.05 642.5,209.95 643.0,210.33 643.5,210.39 644.0,210.40 644.5,210.62 645.0,210.64 645.5,210.77 646.0,210.74 646.5,210.50 647.0,210.47 647.5,210.60 648.0,210.41 648.5,210.30 649.0,210.33 649.5,210.31 650.0,210.32 650.5,210.62 651.0,210.76 651.5,210.80 652.0,210.42 652.5,210.51 653.0,210.36 653.5,210.38 654.0,210.28 654.5,210.19 655.0,210.07 655.5,209.75 656.0,209.90 656.5,209.99 657.0,210.38 657.5,209.92 658.0,209.82 658.5,208.97 659.0,208.89 659.5,208.87 660.0,209.12 660.5,209.28 661.0,209.67 661.5,209.70 662.0,209.74 662.5,209.81 663.0,209.87 663.5,210.02 664.0,210.04 664.5,210.28 665.0,210.69 665.5,210.83 666.0,211.13 666.5,210.72 667.0,210.61 667.5,210.56 668.0,210.30 668.5,210.02 669.0,210.44 669.5,210.21 670.0,209.98 670.5,210.28 671.0,210.27 671.5,210.48 672.0,211.09 672.5,211.17 673.0,210.90 673.5,210.94 674.0,210.62 674.5,210.03 675.0,209.98 675.5,210.08 676.0,210.04 676.5,210.27 677.0,210.66 677.5,210.79 678.0,210.81 678.5,210.93 679.0,210.79 679.5,210.66 680.0,210.44 680.5,210.02 681.0,210.09 681.5,210.00 682.0,209.88 682.5,210.03 683.0,210.51 683.5,210.32"/>
<line x1="10.3" y1="468.7" x2="682.6" y2="468.7" stroke="#111" stroke-width="1.7"/>
<line x1="10.4" y1="469" x2="10.4" y2="473.5" stroke="#333" stroke-width="1"/>
<line x1="24.4" y1="469" x2="24.4" y2="472.0" stroke="#333" stroke-width="1"/>
<line x1="38.4" y1="469" x2="38.4" y2="473.5" stroke="#333" stroke-width="1"/>
<line x1="52.5" y1="469" x2="52.5" y2="472.0" stroke="#333" stroke-width="1"/>
<line x1="66.5" y1="469" x2="66.5" y2="473.5" stroke="#333" stroke-width="1"/>
<line x1="80.5" y1="469" x2="80.5" y2="472.0" stroke="#333" stroke-width="1"/>
<line x1="94.5" y1="469" x2="94.5" y2="473.5" stroke="#333" stroke-width="1"/>
<line x1="108.6" y1="469" x2="108.6" y2="472.0" stroke="#333" stroke-width="1"/>
<line x1="122.6" y1="469" x2="122.6" y2="473.5" stroke="#333" stroke-width="1"/>
<line x1="136.6" y1="469" x2="136.6" y2="472.0" stroke="#333" stroke-width="1"/>
<line x1="150.7" y1="469" x2="150.7" y2="473.5" stroke="#333" stroke-width="1"/>
<line x1="164.7" y1="469" x2="164.7" y2="472.0" stroke="#333" stroke-width="1"/>
<line x1="178.7" y1="469" x2="178.7" y2="473.5" stroke="#333" stroke-width="1"/>
<line x1="192.7" y1="469" x2="192.7" y2="472.0" stroke="#333" stroke-width="1"/>
<line x1="206.8" y1="469" x2="206.8" y2="473.5" stroke="#333" stroke-width="1"/>
<line x1="220.8" y1="469" x2="220.8" y2="472.0" stroke="#333" stroke-width="1"/>
<line x1="234.8" y1="469" x2="234.8" y2="473.5" stroke="#333" stroke-width="1"/>
<line x1="248.8" y1="469" x2="248.8" y2="472.0" stroke="#333" stroke-width="1"/>
<line x1="262.9" y1="469" x2="262.9" y2="473.5" stroke="#333" stroke-width="1"/>
<line x1="276.9" y1="469" x2="276.9" y2="472.0" stroke="#333" stroke-width="1"/>
<line x1="290.9" y1="469" x2="290.9" y2="473.5" stroke="#333" stroke-width="1"/>
<line x1="304.9" y1="469" x2="304.9" y2="472.0" stroke="#333" stroke-width="1"/>
<line x1="319.0" y1="469" x2="319.0" y2="473.5" stroke="#333" stroke-width="1"/>
<line x1="333.0" y1="469" x2="333.0" y2="472.0" stroke="#333" stroke-width="1"/>
<line x1="347.0" y1="469" x2="347.0" y2="473.5" stroke="#333" stroke-width="1"/>
<line x1="361.0" y1="469" x2="361.0" y2="472.0" stroke="#333" stroke-width="1"/>
<line x1="375.1" y1="469" x2="375.1" y2="473.5" stroke="#333" stroke-width="1"/>
<line x1="389.1" y1="469" x2="389.1" y2="472.0" stroke="#333" stroke-width="1"/>
<line x1="403.1" y1="469" x2="403.1" y2="473.5" stroke="#333" stroke-width="1"/>
<line x1="417.1" y1="469" x2="417.1" y2="472.0" stroke="#333" stroke-width="1"/>
<line x1="431.1" y1="469" x2="431.1" y2="473.5" stroke="#333" stroke-width="1"/>
<line x1="445.2" y1="469" x2="445.2" y2="472.0" stroke="#333" stroke-width="1"/>
<line x1="459.2" y1="469" x2="459.2" y2="473.5" stroke="#333" stroke-width="1"/>
<line x1="473.2" y1="469" x2="473.2" y2="472.0" stroke="#333" stroke-width="1"/>
<line x1="487.2" y1="469" x2="487.2" y2="473.5" stroke="#333" stroke-width="1"/>
<line x1="501.3" y1="469" x2="501.3" y2="472.0" stroke="#333" stroke-width="1"/>
<line x1="515.3" y1="469" x2="515.3" y2="473.5" stroke="#333" stroke-width="1"/>
<line x1="529.3" y1="469" x2="529.3" y2="472.0" stroke="#333" stroke-width="1"/>
<line x1="543.4" y1="469" x2="543.4" y2="473.5" stroke="#333" stroke-width="1"/>
<line x1="557.4" y1="469" x2="557.4" y2="472.0" stroke="#333" stroke-width="1"/>
<line x1="571.4" y1="469" x2="571.4" y2="473.5" stroke="#333" stroke-width="1"/>
<line x1="585.4" y1="469" x2="585.4" y2="472.0" stroke="#333" stroke-width="1"/>
<line x1="599.5" y1="469" x2="599.5" y2="473.5" stroke="#333" stroke-width="1"/>
<line x1="613.5" y1="469" x2="613.5" y2="472.0" stroke="#333" stroke-width="1"/>
<line x1="627.5" y1="469" x2="627.5" y2="473.5" stroke="#333" stroke-width="1"/>
<line x1="641.5" y1="469" x2="641.5" y2="472.0" stroke="#333" stroke-width="1"/>
<line x1="655.6" y1="469" x2="655.6" y2="473.5" stroke="#333" stroke-width="1"/>
<line x1="669.6" y1="469" x2="669.6" y2="472.0" stroke="#333" stroke-width="1"/>
<text x="41.0" y="485" text-anchor="middle" class="ax">220</text>
<text x="69.1" y="485" text-anchor="middle" class="ax">210</text>
<text x="97.1" y="485" text-anchor="middle" class="ax">200</text>
<text x="125.2" y="485" text-anchor="middle" class="ax">190</text>
<text x="153.2" y="485" text-anchor="middle" class="ax">180</text>
<text x="181.3" y="485" text-anchor="middle" class="ax">170</text>
<text x="209.3" y="485" text-anchor="middle" class="ax">160</text>
<text x="237.4" y="485" text-anchor="middle" class="ax">150</text>
<text x="265.5" y="485" text-anchor="middle" class="ax">140</text>
<text x="293.5" y="485" text-anchor="middle" class="ax">130</text>
<text x="321.6" y="485" text-anchor="middle" class="ax">120</text>
<text x="349.6" y="485" text-anchor="middle" class="ax">110</text>
<text x="377.7" y="485" text-anchor="middle" class="ax">100</text>
<text x="405.7" y="485" text-anchor="middle" class="ax">90</text>
<text x="433.8" y="485" text-anchor="middle" class="ax">80</text>
<text x="461.8" y="485" text-anchor="middle" class="ax">70</text>
<text x="489.9" y="485" text-anchor="middle" class="ax">60</text>
<text x="517.9" y="485" text-anchor="middle" class="ax">50</text>
<text x="546.0" y="485" text-anchor="middle" class="ax">40</text>
<text x="574.0" y="485" text-anchor="middle" class="ax">30</text>
<text x="602.1" y="485" text-anchor="middle" class="ax">20</text>
<text x="630.1" y="485" text-anchor="middle" class="ax">10</text>
<text x="658.2" y="485" text-anchor="middle" class="ax">0</text>
<text x="337" y="502.5" class="dl">&#948;</text><text x="347.0" y="502" class="pp" textLength="37.6" lengthAdjust="spacingAndGlyphs">(ppm)</text>
<text x="-0.2" y="206.5" fill="#808080" class="sl" textLength="115.3" lengthAdjust="spacingAndGlyphs">674Li-PCDA, PostUV</text>
<text x="-0.2" y="247.8" fill="#000" class="sl" textLength="109.8" lengthAdjust="spacingAndGlyphs">674Li-PCDA, PreUV</text>
<text x="-0.2" y="295.7" fill="#ff6a6a" class="sl" textLength="115.5" lengthAdjust="spacingAndGlyphs">635Li-PCDA, PostUV</text>
<text x="-0.2" y="338.0" fill="#ff1010" class="sl" textLength="109.7" lengthAdjust="spacingAndGlyphs">635Li-PCDA, PreUV</text>
<text x="-0.9" y="386.2" fill="#2a7fcc" class="sl" textLength="82.4" lengthAdjust="spacingAndGlyphs">PCDA, PostUV</text>
<text x="-0.9" y="431.2" fill="#1010ff" class="sl" textLength="76.7" lengthAdjust="spacingAndGlyphs">PCDA, PreUV</text>
<text x="139" y="175.0" text-anchor="middle" class="pl">1</text>
<text x="267.0" y="175.0" class="pl" textLength="44.0" lengthAdjust="spacingAndGlyphs">10&#8221;, 13&#8221;</text>
<text x="330.6" y="175.6" class="pl" textLength="43.5" lengthAdjust="spacingAndGlyphs">11&#8221;, 12&#8221;</text>
<text x="435.3" y="174.8" text-anchor="middle" class="pl">10&#8217;, 13&#8217;</text>
<text x="460.6" y="174.9" class="pl" textLength="38.0" lengthAdjust="spacingAndGlyphs">11&#8217;, 12&#8217;</text>
<text x="206.7" y="196.7" text-anchor="middle" class="ast">*</text>
<text x="319.0" y="196.7" text-anchor="middle" class="ast">*</text>
<text x="359.5" y="196.7" text-anchor="middle" class="ast">*</text>
<text x="467.7" y="196.7" text-anchor="middle" class="ast">*</text>
<text x="552.7" y="85.7" text-anchor="middle" class="pl">2, 18-23</text>
<path d="M538,97.5 V95 H569 V97.5 M553.5,95 V92.5" fill="none" stroke="#000" stroke-width="1.3"/>
<text x="602.3" y="101" text-anchor="middle" class="pl">6-8, 15-17</text>
<text x="609.5" y="138" text-anchor="middle" class="pl">3, 24</text>
<text x="629.5" y="174" text-anchor="middle" class="pl">9,14, 25</text>
<line x1="584.7" y1="108.7" x2="584.7" y2="177" stroke="#000" stroke-width="1.4"/><path d="M581.3,174 L584.7,181.5 L588.1,174 Z" fill="#000"/>
<line x1="594.7" y1="143" x2="594.7" y2="178" stroke="#000" stroke-width="1.4"/><path d="M591.3,175 L594.7,182.5 L598.1,175 Z" fill="#000"/>
<polyline points="30.1,157.5 44.7,157.5 52.0,144.8 66.6,144.8 73.9,132.0 88.5,132.0 95.8,119.2 110.4,119.2 117.7,106.5 132.3,106.5 139.6,93.8 154.2,93.8 161.5,81.0" fill="none" stroke="#111" stroke-width="1.40" stroke-linejoin="miter" stroke-linecap="butt"/>
<line x1="161.5" y1="81.0" x2="176.2" y2="81.0" stroke="#111" stroke-width="1.40"/>
<line x1="163.3" y1="83.6" x2="174.6" y2="83.6" stroke="#111" stroke-width="1.40"/>
<polyline points="176.2,81.0 183.4,68.0 198.0,68.0 205.2,55.1 219.8,55.1 227.0,42.1 241.6,42.1 248.8,29.2 263.4,29.2 270.6,16.2" fill="none" stroke="#111" stroke-width="1.40" stroke-linejoin="miter" stroke-linecap="butt"/>
<line x1="269.7" y1="16.8" x2="265.1" y2="9.6" stroke="#111" stroke-width="1.40"/>
<line x1="271.5" y1="15.6" x2="267.2" y2="8.0" stroke="#111" stroke-width="1.40"/>
<line x1="270.6" y1="16.2" x2="281.0" y2="16.2" stroke="#111" stroke-width="1.40"/>
<line x1="288.2" y1="11.6" x2="290.3" y2="8.6" stroke="#111" stroke-width="1.40"/>
<text x="259.9" y="7.6" class="at2">O</text>
<text x="281.3" y="19.8" class="at">O</text>
<text x="289.5" y="7.3" class="at2">R</text>
<line x1="161.5" y1="81.0" x2="151.1" y2="66.0" stroke="#111" stroke-width="1.40"/>
<path d="M163.7,57.6 Q150.2,69.5 152.3,85.8" fill="none" stroke="#111" stroke-width="1.2"/>
<line x1="176.2" y1="81.0" x2="200.4" y2="121.2" stroke="#111" stroke-width="1.40"/>
<line x1="185.3" y1="90.7" x2="192.8" y2="103.1" stroke="#111" stroke-width="1.20"/>
<line x1="180.5" y1="93.6" x2="188.0" y2="106.0" stroke="#111" stroke-width="1.20"/>
<path d="M200.9,95.6 Q200.8,112 188.3,123.6" fill="none" stroke="#111" stroke-width="1.2"/>
<text x="191.0" y="126.6" class="nn">n</text>
<text x="12.4" y="161.0" class="cl">25''</text>
<text x="42.7" y="166.7" class="cl">24''</text>
<text x="39.2" y="143.0" class="cl">23''</text>
<text x="65.0" y="154.0" class="cl">22''</text>
<text x="61.1" y="130.3" class="cl">21''</text>
<text x="86.5" y="141.3" class="cl">20''</text>
<text x="83.5" y="117.2" class="cl">19''</text>
<text x="109.6" y="128.4" class="cl">18''</text>
<text x="105.1" y="104.3" class="cl">17''</text>
<text x="131.0" y="114.9" class="cl">16''</text>
<text x="127.4" y="91.7" class="cl">15''</text>
<text x="152.9" y="103.3" class="cl">14''</text>
<text x="159.5" y="77.6" class="cl">13''</text>
<text x="179.5" y="84.2" class="cl">10''</text>
<text x="188.6" y="92.7" class="cl">11''</text>
<text x="175.8" y="115.1" class="cl">12''</text>
<text x="174.6" y="66.0" class="cl">9''</text>
<text x="197.0" y="77.2" class="cl">8''</text>
<text x="196.9" y="53.2" class="cl">7''</text>
<text x="218.7" y="64.2" class="cl">6''</text>
<text x="218.7" y="40.1" class="cl">5''</text>
<text x="241.2" y="51.4" class="cl">4''</text>
<text x="239.6" y="27.3" class="cl">3''</text>
<text x="262.8" y="38.2" class="cl">2''</text>
<text x="270.8" y="25.7" class="cl">1''</text>
<polyline points="329.3,47.7 342.1,55.0 354.8,47.7 367.6,55.0 380.3,47.7 393.1,55.0 405.8,47.7 418.6,55.0 431.3,47.7 444.1,55.0 456.8,47.7 469.6,55.0" fill="none" stroke="#111" stroke-width="1.40" stroke-linejoin="miter" stroke-linecap="butt"/>
<line x1="469.6" y1="55.0" x2="532.7" y2="18.3" stroke="#111" stroke-width="1.40"/>
<line x1="484.6" y1="49.5" x2="495.7" y2="43.0" stroke="#111" stroke-width="1.20"/>
<line x1="481.8" y1="44.6" x2="492.9" y2="38.2" stroke="#111" stroke-width="1.20"/>
<line x1="509.9" y1="34.8" x2="521.0" y2="28.4" stroke="#111" stroke-width="1.20"/>
<line x1="507.1" y1="30.0" x2="518.1" y2="23.5" stroke="#111" stroke-width="1.20"/>
<polyline points="532.7,18.3 545.5,25.6 558.2,18.3 571.0,25.6 583.7,18.3 596.5,25.6 609.2,18.3 622.0,25.6 634.7,18.3" fill="none" stroke="#111" stroke-width="1.40" stroke-linejoin="miter" stroke-linecap="butt"/>
<line x1="633.5" y1="18.3" x2="633.5" y2="7.6" stroke="#111" stroke-width="1.40"/>
<line x1="635.9" y1="18.3" x2="635.9" y2="7.6" stroke="#111" stroke-width="1.40"/>
<line x1="634.7" y1="18.3" x2="642.2" y2="23.0" stroke="#111" stroke-width="1.40"/>
<line x1="651.8" y1="26.4" x2="656.8" y2="26.4" stroke="#111" stroke-width="1.40"/>
<text x="630.8" y="7.1" class="at2">O</text>
<text x="643.1" y="29.9" class="at">O</text>
<text x="657.4" y="29.9" class="at">R</text>
<text x="315.6" y="48.2" class="cl2">25'</text>
<text x="336.3" y="65.5" class="cl2">24'</text>
<text x="348.8" y="45.0" class="cl2">23'</text>
<text x="361.2" y="65.5" class="cl2">22'</text>
<text x="374.0" y="45.0" class="cl2">21'</text>
<text x="386.6" y="65.5" class="cl2">20'</text>
<text x="399.4" y="45.0" class="cl2">19'</text>
<text x="413.0" y="65.3" class="cl2">18'</text>
<text x="425.5" y="44.9" class="cl2">17'</text>
<text x="438.4" y="65.3" class="cl2">16'</text>
<text x="450.8" y="44.9" class="cl2">15'</text>
<text x="463.6" y="65.3" class="cl2">14'</text>
<text x="483.7" y="57.7" class="cl2">13'</text>
<text x="496.5" y="50.2" class="cl2">12'</text>
<text x="508.6" y="42.8" class="cl2">11'</text>
<text x="521.5" y="36.1" class="cl2">10'</text>
<text x="529.2" y="15.4" class="cl2">9'</text>
<text x="542.0" y="35.8" class="cl2">8'</text>
<text x="554.7" y="15.4" class="cl2">7'</text>
<text x="567.5" y="35.8" class="cl2">6'</text>
<text x="580.0" y="15.6" class="cl2">5'</text>
<text x="592.6" y="35.9" class="cl2">4'</text>
<text x="605.1" y="15.6" class="cl2">3'</text>
<text x="617.5" y="36.3" class="cl2">2'</text>
<text x="631.4" y="28.4" class="cl2">1'</text>
<text x="272.3" y="105.5" class="pc"><tspan font-style="italic">PCDA:</tspan> R = H</text>
<text x="272.3" y="120.1" class="pc"><tspan font-style="italic">LiPCDA:</tspan> R = Li</text>
</svg></body></html>
